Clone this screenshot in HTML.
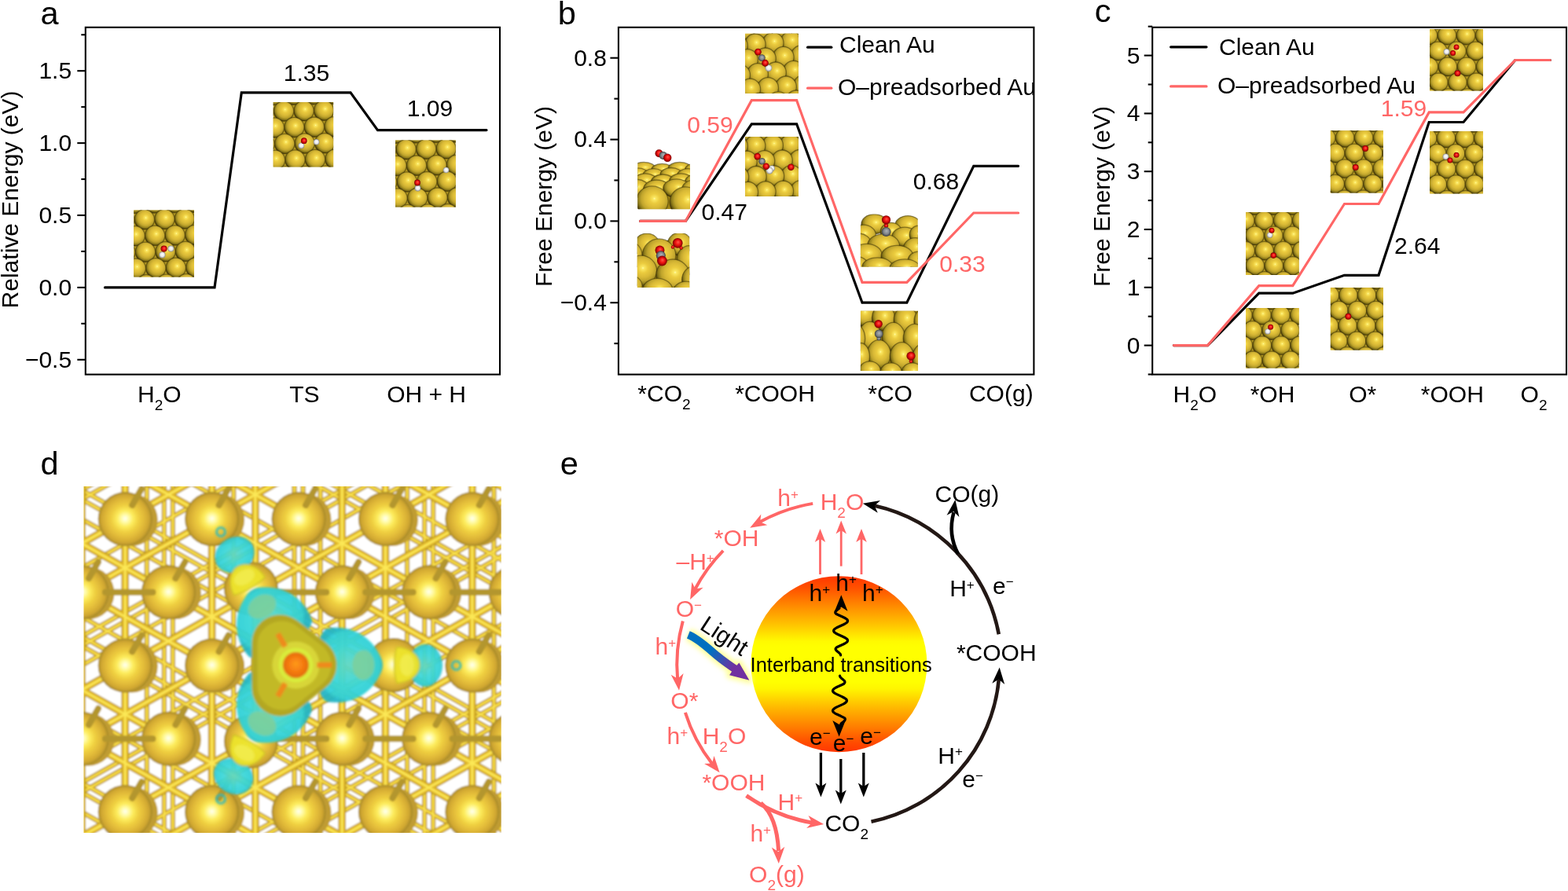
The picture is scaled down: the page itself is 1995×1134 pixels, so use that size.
<!DOCTYPE html>
<html lang="en"><head><meta charset="utf-8"><title>Figure</title>
<style>
html,body{margin:0;padding:0;background:#fff;overflow:hidden;}
svg{display:block;font-family:"Liberation Sans", sans-serif;}
</style></head>
<body>
<svg width="1995" height="1134" viewBox="0 0 1995 1134">
<defs>
<radialGradient id="gold" cx="0.57" cy="0.41" r="0.61" fx="0.57" fy="0.41">
 <stop offset="0" stop-color="#fffcaa"/>
 <stop offset="0.07" stop-color="#fbe862"/>
 <stop offset="0.26" stop-color="#ebcb3e"/>
 <stop offset="0.5" stop-color="#d9b936"/>
 <stop offset="0.68" stop-color="#bfa42c"/>
 <stop offset="0.82" stop-color="#93801c"/>
 <stop offset="0.93" stop-color="#5e500e"/>
 <stop offset="1" stop-color="#2e2604"/>
</radialGradient>
<radialGradient id="O" cx="0.5" cy="0.5" r="0.5" fx="0.55" fy="0.4">
 <stop offset="0" stop-color="#ff5a4a"/>
 <stop offset="0.5" stop-color="#ee1111"/>
 <stop offset="1" stop-color="#7a0000"/>
</radialGradient>
<radialGradient id="Hh" cx="0.5" cy="0.5" r="0.5" fx="0.55" fy="0.4">
 <stop offset="0" stop-color="#ffffff"/>
 <stop offset="0.6" stop-color="#e8e8e8"/>
 <stop offset="1" stop-color="#8a8a8a"/>
</radialGradient>
<radialGradient id="C" cx="0.5" cy="0.5" r="0.5" fx="0.55" fy="0.4">
 <stop offset="0" stop-color="#b0b4b8"/>
 <stop offset="0.6" stop-color="#80858a"/>
 <stop offset="1" stop-color="#3a3d40"/>
</radialGradient>
<clipPath id="c1"><rect x="170.2" y="267.4" width="76.8" height="85.2"/></clipPath><clipPath id="c2"><rect x="347.6" y="130" width="76.6" height="82.4"/></clipPath><clipPath id="c3"><rect x="503" y="178.4" width="76.8" height="85.2"/></clipPath><clipPath id="c4"><rect x="811.3" y="186" width="66.6" height="80.2"/></clipPath><clipPath id="c5"><rect x="810.8" y="297.1" width="66.4" height="69"/></clipPath><clipPath id="c6"><rect x="948.1" y="42.8" width="67.7" height="76.1"/></clipPath><clipPath id="c7"><rect x="948.1" y="173.9" width="67.9" height="76.2"/></clipPath><clipPath id="c8"><rect x="1094.9" y="272.6" width="72.8" height="66.9"/></clipPath><clipPath id="c9"><rect x="1094.9" y="395.8" width="73.1" height="76.2"/></clipPath><clipPath id="c10"><rect x="1585" y="270.1" width="67.7" height="79.8"/></clipPath><clipPath id="c11"><rect x="1585" y="392" width="67.7" height="76.5"/></clipPath><clipPath id="c12"><rect x="1692.8" y="166.2" width="67.2" height="79.3"/></clipPath><clipPath id="c13"><rect x="1692.8" y="366" width="67.2" height="79.6"/></clipPath><clipPath id="c14"><rect x="1819.1" y="37.1" width="67.8" height="78.5"/></clipPath><clipPath id="c15"><rect x="1819.1" y="166.9" width="67.8" height="79.5"/></clipPath><clipPath id="cd"><rect x="106.5" y="619.0" width="531.2" height="441.0"/></clipPath>
<radialGradient id="gd" cx="0.5" cy="0.5" r="0.5" fx="0.5" fy="0.49">
 <stop offset="0" stop-color="#fffff2"/>
 <stop offset="0.14" stop-color="#fffcaa"/>
 <stop offset="0.3" stop-color="#fdec5c"/>
 <stop offset="0.5" stop-color="#efcf40"/>
 <stop offset="0.72" stop-color="#e0b838"/>
 <stop offset="0.88" stop-color="#cfa630"/>
 <stop offset="0.96" stop-color="#b3922c"/>
 <stop offset="1" stop-color="#9a7f28"/>
</radialGradient>
<radialGradient id="cy" cx="0.5" cy="0.5" r="0.5">
 <stop offset="0" stop-color="#5fd6c0"/>
 <stop offset="0.55" stop-color="#38d6d8"/>
 <stop offset="0.9" stop-color="#2ecfd6"/>
 <stop offset="1" stop-color="#22b4c4"/>
</radialGradient>
<radialGradient id="yb" cx="0.5" cy="0.5" r="0.5">
 <stop offset="0" stop-color="#e8f05a"/>
 <stop offset="0.3" stop-color="#d6d83a"/>
 <stop offset="0.6" stop-color="#c2bb28"/>
 <stop offset="0.9" stop-color="#b5aa22"/>
 <stop offset="1" stop-color="#9c8f1c"/>
</radialGradient>
<radialGradient id="og" cx="0.5" cy="0.5" r="0.5" fx="0.5" fy="0.45">
 <stop offset="0" stop-color="#ff9a1a"/>
 <stop offset="0.6" stop-color="#f57a10"/>
 <stop offset="1" stop-color="#e06a10"/>
</radialGradient>
<filter id="bl" x="-5%" y="-5%" width="110%" height="110%"><feGaussianBlur stdDeviation="0.9"/></filter>
<filter id="bl2" x="-20%" y="-20%" width="140%" height="140%"><feGaussianBlur stdDeviation="1.6"/></filter>

<linearGradient id="sun" x1="0" y1="0" x2="0" y2="1">
 <stop offset="0" stop-color="#ff3600"/>
 <stop offset="0.07" stop-color="#ff5200"/>
 <stop offset="0.18" stop-color="#ff9000"/>
 <stop offset="0.28" stop-color="#ffc600"/>
 <stop offset="0.37" stop-color="#fffa00"/>
 <stop offset="0.40" stop-color="#ffff00"/>
 <stop offset="0.60" stop-color="#ffff00"/>
 <stop offset="0.64" stop-color="#fff600"/>
 <stop offset="0.74" stop-color="#ffbc00"/>
 <stop offset="0.86" stop-color="#ff7c00"/>
 <stop offset="0.95" stop-color="#ff4a00"/>
 <stop offset="1" stop-color="#ff3600"/>
</linearGradient>
<linearGradient id="lightg" gradientUnits="userSpaceOnUse" x1="880" y1="808" x2="952" y2="862">
 <stop offset="0" stop-color="#0070c0"/>
 <stop offset="0.35" stop-color="#0070c0"/>
 <stop offset="0.75" stop-color="#7030a0"/>
 <stop offset="1" stop-color="#7030a0"/>
</linearGradient>
<filter id="glow" x="-30%" y="-30%" width="160%" height="160%"><feGaussianBlur stdDeviation="3"/></filter>
</defs>
<rect width="1995" height="1134" fill="#fff"/>
<text x="51.4" y="31" font-size="41.5" fill="#000" text-anchor="start" >a</text>
<text x="709.7" y="31.2" font-size="41.5" fill="#000" text-anchor="start" >b</text>
<text x="1392.7" y="28" font-size="41.5" fill="#000" text-anchor="start" >c</text>
<text x="51.4" y="603.7" font-size="41.5" fill="#000" text-anchor="start" >d</text>
<text x="712.7" y="603.5" font-size="41.5" fill="#000" text-anchor="start" >e</text>
<rect x="108.8" y="34.8" width="527.2" height="441.8" fill="none" stroke="#000" stroke-width="2.1"/>
<line x1="98.3" y1="90.19999999999993" x2="108.8" y2="90.19999999999993" stroke="#000" stroke-width="2.1"/>
<line x1="98.3" y1="182.09999999999997" x2="108.8" y2="182.09999999999997" stroke="#000" stroke-width="2.1"/>
<line x1="98.3" y1="274.0" x2="108.8" y2="274.0" stroke="#000" stroke-width="2.1"/>
<line x1="98.3" y1="365.9" x2="108.8" y2="365.9" stroke="#000" stroke-width="2.1"/>
<line x1="98.3" y1="457.79999999999995" x2="108.8" y2="457.79999999999995" stroke="#000" stroke-width="2.1"/>
<line x1="103.3" y1="44.24999999999994" x2="108.8" y2="44.24999999999994" stroke="#000" stroke-width="2.1"/>
<line x1="103.3" y1="136.14999999999998" x2="108.8" y2="136.14999999999998" stroke="#000" stroke-width="2.1"/>
<line x1="103.3" y1="228.04999999999995" x2="108.8" y2="228.04999999999995" stroke="#000" stroke-width="2.1"/>
<line x1="103.3" y1="319.95" x2="108.8" y2="319.95" stroke="#000" stroke-width="2.1"/>
<line x1="103.3" y1="411.84999999999997" x2="108.8" y2="411.84999999999997" stroke="#000" stroke-width="2.1"/>
<text x="91.15" y="100.09999999999994" font-size="30" fill="#000" text-anchor="end" >1.5</text>
<text x="91.15" y="191.99999999999997" font-size="30" fill="#000" text-anchor="end" >1.0</text>
<text x="91.15" y="283.9" font-size="30" fill="#000" text-anchor="end" >0.5</text>
<text x="91.15" y="375.79999999999995" font-size="30" fill="#000" text-anchor="end" >0.0</text>
<text x="91.15" y="467.69999999999993" font-size="30" fill="#000" text-anchor="end" >−0.5</text>
<text transform="translate(23,254) rotate(-90)" font-size="30" text-anchor="middle">Relative Energy (eV)</text>
<polyline points="133.5,365.9 273.0,365.9 307.3,117.8 446.0,117.8 480.5,165.6 619.0,165.6" fill="none" stroke="#000" stroke-width="3.2" stroke-linejoin="miter" stroke-linecap="round"/>
<text x="390" y="102.5" font-size="30" fill="#000" text-anchor="middle" >1.35</text>
<text x="547" y="148" font-size="30" fill="#000" text-anchor="middle" >1.09</text>
<text x="202.8" y="512.2" font-size="30" fill="#000" text-anchor="middle" >H<tspan font-size="19" dy="10">2</tspan><tspan dy="-10" font-size="1">&#8203;</tspan>O</text>
<text x="387.3" y="512.2" font-size="30" fill="#000" text-anchor="middle" >TS</text>
<text x="542.6" y="512.2" font-size="30" fill="#000" text-anchor="middle" >OH + H</text>
<g clip-path="url(#c1)">
<rect x="170.2" y="267.4" width="76.8" height="85.2" fill="#b59a22"/>
<circle cx="247.0" cy="257.7" r="12.7" fill="url(#gold)" stroke="#3a3006" stroke-opacity=".5" stroke-width="1.3"/>
<circle cx="221.5" cy="258.1" r="12.7" fill="url(#gold)" stroke="#3a3006" stroke-opacity=".5" stroke-width="1.3"/>
<circle cx="196.0" cy="258.5" r="12.7" fill="url(#gold)" stroke="#3a3006" stroke-opacity=".5" stroke-width="1.3"/>
<circle cx="170.5" cy="258.9" r="12.7" fill="url(#gold)" stroke="#3a3006" stroke-opacity=".5" stroke-width="1.3"/>
<circle cx="234.8" cy="278.6" r="12.7" fill="url(#gold)" stroke="#3a3006" stroke-opacity=".5" stroke-width="1.3"/>
<circle cx="209.3" cy="279.0" r="12.7" fill="url(#gold)" stroke="#3a3006" stroke-opacity=".5" stroke-width="1.3"/>
<circle cx="183.8" cy="279.4" r="12.7" fill="url(#gold)" stroke="#3a3006" stroke-opacity=".5" stroke-width="1.3"/>
<circle cx="158.3" cy="279.8" r="12.7" fill="url(#gold)" stroke="#3a3006" stroke-opacity=".5" stroke-width="1.3"/>
<circle cx="248.1" cy="299.1" r="12.7" fill="url(#gold)" stroke="#3a3006" stroke-opacity=".5" stroke-width="1.3"/>
<circle cx="222.6" cy="299.5" r="12.7" fill="url(#gold)" stroke="#3a3006" stroke-opacity=".5" stroke-width="1.3"/>
<circle cx="197.1" cy="299.9" r="12.7" fill="url(#gold)" stroke="#3a3006" stroke-opacity=".5" stroke-width="1.3"/>
<circle cx="171.6" cy="300.3" r="12.7" fill="url(#gold)" stroke="#3a3006" stroke-opacity=".5" stroke-width="1.3"/>
<circle cx="235.9" cy="320.0" r="12.7" fill="url(#gold)" stroke="#3a3006" stroke-opacity=".5" stroke-width="1.3"/>
<circle cx="210.4" cy="320.4" r="12.7" fill="url(#gold)" stroke="#3a3006" stroke-opacity=".5" stroke-width="1.3"/>
<circle cx="184.9" cy="320.8" r="12.7" fill="url(#gold)" stroke="#3a3006" stroke-opacity=".5" stroke-width="1.3"/>
<circle cx="159.4" cy="321.2" r="12.7" fill="url(#gold)" stroke="#3a3006" stroke-opacity=".5" stroke-width="1.3"/>
<circle cx="249.2" cy="340.5" r="12.7" fill="url(#gold)" stroke="#3a3006" stroke-opacity=".5" stroke-width="1.3"/>
<circle cx="223.7" cy="340.9" r="12.7" fill="url(#gold)" stroke="#3a3006" stroke-opacity=".5" stroke-width="1.3"/>
<circle cx="198.2" cy="341.3" r="12.7" fill="url(#gold)" stroke="#3a3006" stroke-opacity=".5" stroke-width="1.3"/>
<circle cx="172.7" cy="341.7" r="12.7" fill="url(#gold)" stroke="#3a3006" stroke-opacity=".5" stroke-width="1.3"/>
<circle cx="237.0" cy="361.4" r="12.7" fill="url(#gold)" stroke="#3a3006" stroke-opacity=".5" stroke-width="1.3"/>
<circle cx="211.5" cy="361.8" r="12.7" fill="url(#gold)" stroke="#3a3006" stroke-opacity=".5" stroke-width="1.3"/>
<circle cx="186.0" cy="362.2" r="12.7" fill="url(#gold)" stroke="#3a3006" stroke-opacity=".5" stroke-width="1.3"/>
<circle cx="160.5" cy="362.6" r="12.7" fill="url(#gold)" stroke="#3a3006" stroke-opacity=".5" stroke-width="1.3"/>

<circle cx="206.4" cy="324.4" r="4.1" fill="url(#Hh)"/>
<circle cx="217.4" cy="316.6" r="4.0" fill="url(#Hh)"/>
<circle cx="208.6" cy="316.6" r="4.1" fill="url(#O)"/>
</g>
<g clip-path="url(#c2)">
<rect x="347.6" y="130" width="76.6" height="82.4" fill="#b59a22"/>
<circle cx="424.2" cy="119.9" r="12.7" fill="url(#gold)" stroke="#3a3006" stroke-opacity=".5" stroke-width="1.3"/>
<circle cx="398.7" cy="120.3" r="12.7" fill="url(#gold)" stroke="#3a3006" stroke-opacity=".5" stroke-width="1.3"/>
<circle cx="373.2" cy="120.7" r="12.7" fill="url(#gold)" stroke="#3a3006" stroke-opacity=".5" stroke-width="1.3"/>
<circle cx="347.7" cy="121.1" r="12.7" fill="url(#gold)" stroke="#3a3006" stroke-opacity=".5" stroke-width="1.3"/>
<circle cx="412.0" cy="140.8" r="12.7" fill="url(#gold)" stroke="#3a3006" stroke-opacity=".5" stroke-width="1.3"/>
<circle cx="386.5" cy="141.2" r="12.7" fill="url(#gold)" stroke="#3a3006" stroke-opacity=".5" stroke-width="1.3"/>
<circle cx="361.0" cy="141.6" r="12.7" fill="url(#gold)" stroke="#3a3006" stroke-opacity=".5" stroke-width="1.3"/>
<circle cx="335.5" cy="142.0" r="12.7" fill="url(#gold)" stroke="#3a3006" stroke-opacity=".5" stroke-width="1.3"/>
<circle cx="425.3" cy="161.3" r="12.7" fill="url(#gold)" stroke="#3a3006" stroke-opacity=".5" stroke-width="1.3"/>
<circle cx="399.8" cy="161.7" r="12.7" fill="url(#gold)" stroke="#3a3006" stroke-opacity=".5" stroke-width="1.3"/>
<circle cx="374.3" cy="162.1" r="12.7" fill="url(#gold)" stroke="#3a3006" stroke-opacity=".5" stroke-width="1.3"/>
<circle cx="348.8" cy="162.5" r="12.7" fill="url(#gold)" stroke="#3a3006" stroke-opacity=".5" stroke-width="1.3"/>
<circle cx="413.1" cy="182.2" r="12.7" fill="url(#gold)" stroke="#3a3006" stroke-opacity=".5" stroke-width="1.3"/>
<circle cx="387.6" cy="182.6" r="12.7" fill="url(#gold)" stroke="#3a3006" stroke-opacity=".5" stroke-width="1.3"/>
<circle cx="362.1" cy="183.0" r="12.7" fill="url(#gold)" stroke="#3a3006" stroke-opacity=".5" stroke-width="1.3"/>
<circle cx="336.6" cy="183.4" r="12.7" fill="url(#gold)" stroke="#3a3006" stroke-opacity=".5" stroke-width="1.3"/>
<circle cx="426.4" cy="202.7" r="12.7" fill="url(#gold)" stroke="#3a3006" stroke-opacity=".5" stroke-width="1.3"/>
<circle cx="400.9" cy="203.1" r="12.7" fill="url(#gold)" stroke="#3a3006" stroke-opacity=".5" stroke-width="1.3"/>
<circle cx="375.4" cy="203.5" r="12.7" fill="url(#gold)" stroke="#3a3006" stroke-opacity=".5" stroke-width="1.3"/>
<circle cx="349.9" cy="203.9" r="12.7" fill="url(#gold)" stroke="#3a3006" stroke-opacity=".5" stroke-width="1.3"/>
<circle cx="414.2" cy="223.6" r="12.7" fill="url(#gold)" stroke="#3a3006" stroke-opacity=".5" stroke-width="1.3"/>
<circle cx="388.7" cy="224.0" r="12.7" fill="url(#gold)" stroke="#3a3006" stroke-opacity=".5" stroke-width="1.3"/>
<circle cx="363.2" cy="224.4" r="12.7" fill="url(#gold)" stroke="#3a3006" stroke-opacity=".5" stroke-width="1.3"/>
<circle cx="337.7" cy="224.8" r="12.7" fill="url(#gold)" stroke="#3a3006" stroke-opacity=".5" stroke-width="1.3"/>

<circle cx="383.3" cy="185.3" r="3.9" fill="url(#Hh)"/>
<circle cx="402.6" cy="180.8" r="3.8" fill="url(#Hh)"/>
<circle cx="386.8" cy="179.2" r="3.9" fill="url(#O)"/>
</g>
<g clip-path="url(#c3)">
<rect x="503" y="178.4" width="76.8" height="85.2" fill="#b59a22"/>
<circle cx="579.8" cy="168.5" r="12.7" fill="url(#gold)" stroke="#3a3006" stroke-opacity=".5" stroke-width="1.3"/>
<circle cx="554.3" cy="168.9" r="12.7" fill="url(#gold)" stroke="#3a3006" stroke-opacity=".5" stroke-width="1.3"/>
<circle cx="528.8" cy="169.3" r="12.7" fill="url(#gold)" stroke="#3a3006" stroke-opacity=".5" stroke-width="1.3"/>
<circle cx="503.3" cy="169.7" r="12.7" fill="url(#gold)" stroke="#3a3006" stroke-opacity=".5" stroke-width="1.3"/>
<circle cx="567.6" cy="189.4" r="12.7" fill="url(#gold)" stroke="#3a3006" stroke-opacity=".5" stroke-width="1.3"/>
<circle cx="542.1" cy="189.8" r="12.7" fill="url(#gold)" stroke="#3a3006" stroke-opacity=".5" stroke-width="1.3"/>
<circle cx="516.6" cy="190.2" r="12.7" fill="url(#gold)" stroke="#3a3006" stroke-opacity=".5" stroke-width="1.3"/>
<circle cx="491.1" cy="190.6" r="12.7" fill="url(#gold)" stroke="#3a3006" stroke-opacity=".5" stroke-width="1.3"/>
<circle cx="580.9" cy="209.9" r="12.7" fill="url(#gold)" stroke="#3a3006" stroke-opacity=".5" stroke-width="1.3"/>
<circle cx="555.4" cy="210.3" r="12.7" fill="url(#gold)" stroke="#3a3006" stroke-opacity=".5" stroke-width="1.3"/>
<circle cx="529.9" cy="210.7" r="12.7" fill="url(#gold)" stroke="#3a3006" stroke-opacity=".5" stroke-width="1.3"/>
<circle cx="504.4" cy="211.1" r="12.7" fill="url(#gold)" stroke="#3a3006" stroke-opacity=".5" stroke-width="1.3"/>
<circle cx="568.7" cy="230.8" r="12.7" fill="url(#gold)" stroke="#3a3006" stroke-opacity=".5" stroke-width="1.3"/>
<circle cx="543.2" cy="231.2" r="12.7" fill="url(#gold)" stroke="#3a3006" stroke-opacity=".5" stroke-width="1.3"/>
<circle cx="517.7" cy="231.6" r="12.7" fill="url(#gold)" stroke="#3a3006" stroke-opacity=".5" stroke-width="1.3"/>
<circle cx="492.2" cy="232.0" r="12.7" fill="url(#gold)" stroke="#3a3006" stroke-opacity=".5" stroke-width="1.3"/>
<circle cx="582.0" cy="251.3" r="12.7" fill="url(#gold)" stroke="#3a3006" stroke-opacity=".5" stroke-width="1.3"/>
<circle cx="556.5" cy="251.7" r="12.7" fill="url(#gold)" stroke="#3a3006" stroke-opacity=".5" stroke-width="1.3"/>
<circle cx="531.0" cy="252.1" r="12.7" fill="url(#gold)" stroke="#3a3006" stroke-opacity=".5" stroke-width="1.3"/>
<circle cx="505.5" cy="252.5" r="12.7" fill="url(#gold)" stroke="#3a3006" stroke-opacity=".5" stroke-width="1.3"/>
<circle cx="569.8" cy="272.2" r="12.7" fill="url(#gold)" stroke="#3a3006" stroke-opacity=".5" stroke-width="1.3"/>
<circle cx="544.3" cy="272.6" r="12.7" fill="url(#gold)" stroke="#3a3006" stroke-opacity=".5" stroke-width="1.3"/>
<circle cx="518.8" cy="273.0" r="12.7" fill="url(#gold)" stroke="#3a3006" stroke-opacity=".5" stroke-width="1.3"/>
<circle cx="493.3" cy="273.4" r="12.7" fill="url(#gold)" stroke="#3a3006" stroke-opacity=".5" stroke-width="1.3"/>

<circle cx="531.5" cy="239.5" r="3.9" fill="url(#Hh)"/>
<circle cx="567.6" cy="216.5" r="3.8" fill="url(#Hh)"/>
<circle cx="531" cy="232.5" r="3.9" fill="url(#O)"/>
</g>
<rect x="786.9" y="34.8" width="528.5000000000001" height="441.8" fill="none" stroke="#000" stroke-width="2.1"/>
<line x1="776.4" y1="73.71999999999994" x2="786.9" y2="73.71999999999994" stroke="#000" stroke-width="2.1"/>
<line x1="776.4" y1="177.55999999999995" x2="786.9" y2="177.55999999999995" stroke="#000" stroke-width="2.1"/>
<line x1="776.4" y1="281.4" x2="786.9" y2="281.4" stroke="#000" stroke-width="2.1"/>
<line x1="776.4" y1="385.24" x2="786.9" y2="385.24" stroke="#000" stroke-width="2.1"/>
<line x1="781.4" y1="125.63999999999996" x2="786.9" y2="125.63999999999996" stroke="#000" stroke-width="2.1"/>
<line x1="781.4" y1="229.47999999999996" x2="786.9" y2="229.47999999999996" stroke="#000" stroke-width="2.1"/>
<line x1="781.4" y1="333.32" x2="786.9" y2="333.32" stroke="#000" stroke-width="2.1"/>
<line x1="781.4" y1="437.15999999999997" x2="786.9" y2="437.15999999999997" stroke="#000" stroke-width="2.1"/>
<text x="771.9" y="83.61999999999995" font-size="30" fill="#000" text-anchor="end" >0.8</text>
<text x="771.9" y="187.45999999999995" font-size="30" fill="#000" text-anchor="end" >0.4</text>
<text x="771.9" y="291.29999999999995" font-size="30" fill="#000" text-anchor="end" >0.0</text>
<text x="771.9" y="395.14" font-size="30" fill="#000" text-anchor="end" >−0.4</text>
<text transform="translate(702,250) rotate(-90)" font-size="30" text-anchor="middle">Free Energy (eV)</text>
<polyline points="814.6,281.4 872.3,281.4 956.3,157.8 1013.6,157.8 1097.0,385.2 1153.8,385.2 1238.8,211.3 1295.6,211.3" fill="none" stroke="#000" stroke-width="3.2" stroke-linejoin="miter" stroke-linecap="round"/>
<polyline points="814.6,281.4 872.3,281.4 956.3,127.7 1013.6,127.7 1097.0,359.3 1153.8,359.3 1238.8,271.0 1295.6,271.0" fill="none" stroke="#ff6666" stroke-width="3.2" stroke-linejoin="miter" stroke-linecap="round"/>
<text x="903.5" y="168.9" font-size="30" fill="#ff6666" text-anchor="middle" >0.59</text>
<text x="921.8" y="280" font-size="30" fill="#000" text-anchor="middle" >0.47</text>
<text x="1191" y="241" font-size="30" fill="#000" text-anchor="middle" >0.68</text>
<text x="1224.4" y="345.7" font-size="30" fill="#ff6666" text-anchor="middle" >0.33</text>
<polyline points="1027.6,60.2 1057.8,60.2" fill="none" stroke="#000" stroke-width="3.2" stroke-linejoin="miter" stroke-linecap="round"/>
<text x="1068" y="66.7" font-size="30" fill="#000" text-anchor="start" >Clean Au</text>
<polyline points="1027.6,112.2 1057.8,112.2" fill="none" stroke="#ff6666" stroke-width="3.2" stroke-linejoin="miter" stroke-linecap="round"/>
<text x="1066" y="121" font-size="30" fill="#000" text-anchor="start" >O–preadsorbed Au</text>
<text x="845" y="511" font-size="30" fill="#000" text-anchor="middle" >*CO<tspan font-size="19" dy="10">2</tspan><tspan dy="-10" font-size="1">&#8203;</tspan></text>
<text x="986" y="511" font-size="30" fill="#000" text-anchor="middle" >*COOH</text>
<text x="1132.6" y="511" font-size="30" fill="#000" text-anchor="middle" >*CO</text>
<text x="1273.8" y="511" font-size="30" fill="#000" text-anchor="middle" >CO(g)</text>
<g clip-path="url(#c4)">
<rect x="811.3" y="222" width="66.6" height="44.19999999999999" fill="#a08414"/>
<ellipse cx="819.1" cy="214.2" rx="14.6" ry="7.8" fill="url(#gold)" stroke="#3a3006" stroke-opacity=".5" stroke-width="1.3"/>
<ellipse cx="842.4" cy="215.8" rx="13.6" ry="7.4" fill="url(#gold)" stroke="#3a3006" stroke-opacity=".5" stroke-width="1.3"/>
<ellipse cx="864.7" cy="214.2" rx="14.6" ry="7.8" fill="url(#gold)" stroke="#3a3006" stroke-opacity=".5" stroke-width="1.3"/>
<ellipse cx="883.1" cy="215.8" rx="11.6" ry="7.4" fill="url(#gold)" stroke="#3a3006" stroke-opacity=".5" stroke-width="1.3"/>
<ellipse cx="811.3" cy="222.0" rx="13.6" ry="8.1" fill="url(#gold)" stroke="#3a3006" stroke-opacity=".5" stroke-width="1.3"/>
<ellipse cx="831.7" cy="223.2" rx="14.0" ry="8.5" fill="url(#gold)" stroke="#3a3006" stroke-opacity=".5" stroke-width="1.3"/>
<ellipse cx="854.0" cy="222.0" rx="14.0" ry="8.5" fill="url(#gold)" stroke="#3a3006" stroke-opacity=".5" stroke-width="1.3"/>
<ellipse cx="875.4" cy="223.2" rx="14.0" ry="8.5" fill="url(#gold)" stroke="#3a3006" stroke-opacity=".5" stroke-width="1.3"/>
<ellipse cx="821.0" cy="230.5" rx="15.1" ry="9.7" fill="url(#gold)" stroke="#3a3006" stroke-opacity=".5" stroke-width="1.3"/>
<ellipse cx="843.4" cy="231.7" rx="15.1" ry="9.7" fill="url(#gold)" stroke="#3a3006" stroke-opacity=".5" stroke-width="1.3"/>
<ellipse cx="866.6" cy="230.5" rx="15.1" ry="9.7" fill="url(#gold)" stroke="#3a3006" stroke-opacity=".5" stroke-width="1.3"/>
<ellipse cx="885.1" cy="231.7" rx="13.6" ry="9.7" fill="url(#gold)" stroke="#3a3006" stroke-opacity=".5" stroke-width="1.3"/>
<ellipse cx="809.4" cy="239.8" rx="16.5" ry="11.6" fill="url(#gold)" stroke="#3a3006" stroke-opacity=".5" stroke-width="1.3"/>
<ellipse cx="835.6" cy="241.0" rx="17.1" ry="12.0" fill="url(#gold)" stroke="#3a3006" stroke-opacity=".5" stroke-width="1.3"/>
<ellipse cx="860.8" cy="239.8" rx="17.1" ry="12.0" fill="url(#gold)" stroke="#3a3006" stroke-opacity=".5" stroke-width="1.3"/>
<ellipse cx="883.1" cy="241.0" rx="15.5" ry="12.0" fill="url(#gold)" stroke="#3a3006" stroke-opacity=".5" stroke-width="1.3"/>
<ellipse cx="829.8" cy="256.3" rx="20.4" ry="19.4" fill="url(#gold)" stroke="#3a3006" stroke-opacity=".5" stroke-width="1.3"/>
<ellipse cx="872.5" cy="257.3" rx="20.4" ry="19.4" fill="url(#gold)" stroke="#3a3006" stroke-opacity=".5" stroke-width="1.3"/>
<circle cx="838.5" cy="195.2" r="5.0" fill="url(#O)"/>
<circle cx="843.7" cy="197.9" r="5.0" fill="url(#C)"/>
<circle cx="849.2" cy="200.7" r="5.2" fill="url(#O)"/>
</g>
<g clip-path="url(#c5)">
<rect x="810.8" y="306" width="66.4" height="60.10000000000002" fill="#a08414"/>
<ellipse cx="823.0" cy="312.6" rx="16.5" ry="15.5" fill="url(#gold)" stroke="#3a3006" stroke-opacity=".5" stroke-width="1.3"/>
<ellipse cx="864.7" cy="310.7" rx="15.5" ry="14.6" fill="url(#gold)" stroke="#3a3006" stroke-opacity=".5" stroke-width="1.3"/>
<ellipse cx="801.6" cy="325.2" rx="15.5" ry="17.5" fill="url(#gold)" stroke="#3a3006" stroke-opacity=".5" stroke-width="1.3"/>
<ellipse cx="838.5" cy="325.2" rx="21.3" ry="21.3" fill="url(#gold)" stroke="#3a3006" stroke-opacity=".5" stroke-width="1.3"/>
<ellipse cx="877.3" cy="331.0" rx="16.5" ry="18.4" fill="url(#gold)" stroke="#3a3006" stroke-opacity=".5" stroke-width="1.3"/>
<ellipse cx="815.2" cy="344.6" rx="20.4" ry="19.4" fill="url(#gold)" stroke="#3a3006" stroke-opacity=".5" stroke-width="1.3"/>
<ellipse cx="856.0" cy="350.4" rx="21.3" ry="20.4" fill="url(#gold)" stroke="#3a3006" stroke-opacity=".5" stroke-width="1.3"/>
<ellipse cx="883.1" cy="356.3" rx="15.5" ry="17.5" fill="url(#gold)" stroke="#3a3006" stroke-opacity=".5" stroke-width="1.3"/>
<ellipse cx="801.6" cy="364.0" rx="15.5" ry="13.6" fill="url(#gold)" stroke="#3a3006" stroke-opacity=".5" stroke-width="1.3"/>
<ellipse cx="836.6" cy="369.8" rx="19.4" ry="15.5" fill="url(#gold)" stroke="#3a3006" stroke-opacity=".5" stroke-width="1.3"/>
<ellipse cx="873.4" cy="371.8" rx="17.5" ry="13.6" fill="url(#gold)" stroke="#3a3006" stroke-opacity=".5" stroke-width="1.3"/>
<circle cx="856.0" cy="314.5" r="2.2" fill="url(#O)"/>
<circle cx="866.6" cy="315.5" r="2.2" fill="url(#O)"/>
<circle cx="862.2" cy="309.3" r="6.4" fill="url(#O)"/>
<circle cx="839.5" cy="318.4" r="6.0" fill="url(#O)"/>
<circle cx="840.8" cy="325.2" r="6.0" fill="url(#C)"/>
<circle cx="842.4" cy="332.0" r="6.4" fill="url(#O)"/>
</g>
<g clip-path="url(#c6)">
<rect x="948.1" y="42.8" width="67.7" height="76.1" fill="#b59a22"/>
<circle cx="1016.3" cy="33.6" r="13.4" fill="url(#gold)" stroke="#3a3006" stroke-opacity=".5" stroke-width="1.3"/>
<circle cx="993.4" cy="35.2" r="13.4" fill="url(#gold)" stroke="#3a3006" stroke-opacity=".5" stroke-width="1.3"/>
<circle cx="970.5" cy="36.8" r="13.4" fill="url(#gold)" stroke="#3a3006" stroke-opacity=".5" stroke-width="1.3"/>
<circle cx="947.6" cy="38.4" r="13.4" fill="url(#gold)" stroke="#3a3006" stroke-opacity=".5" stroke-width="1.3"/>
<circle cx="1006.5" cy="53.2" r="13.4" fill="url(#gold)" stroke="#3a3006" stroke-opacity=".5" stroke-width="1.3"/>
<circle cx="983.6" cy="54.8" r="13.4" fill="url(#gold)" stroke="#3a3006" stroke-opacity=".5" stroke-width="1.3"/>
<circle cx="960.7" cy="56.4" r="13.4" fill="url(#gold)" stroke="#3a3006" stroke-opacity=".5" stroke-width="1.3"/>
<circle cx="937.8" cy="58.0" r="13.4" fill="url(#gold)" stroke="#3a3006" stroke-opacity=".5" stroke-width="1.3"/>
<circle cx="1019.6" cy="71.2" r="13.4" fill="url(#gold)" stroke="#3a3006" stroke-opacity=".5" stroke-width="1.3"/>
<circle cx="996.7" cy="72.8" r="13.4" fill="url(#gold)" stroke="#3a3006" stroke-opacity=".5" stroke-width="1.3"/>
<circle cx="973.8" cy="74.4" r="13.4" fill="url(#gold)" stroke="#3a3006" stroke-opacity=".5" stroke-width="1.3"/>
<circle cx="950.9" cy="76.0" r="13.4" fill="url(#gold)" stroke="#3a3006" stroke-opacity=".5" stroke-width="1.3"/>
<circle cx="1009.8" cy="90.8" r="13.4" fill="url(#gold)" stroke="#3a3006" stroke-opacity=".5" stroke-width="1.3"/>
<circle cx="986.9" cy="92.4" r="13.4" fill="url(#gold)" stroke="#3a3006" stroke-opacity=".5" stroke-width="1.3"/>
<circle cx="964.0" cy="94.0" r="13.4" fill="url(#gold)" stroke="#3a3006" stroke-opacity=".5" stroke-width="1.3"/>
<circle cx="941.1" cy="95.6" r="13.4" fill="url(#gold)" stroke="#3a3006" stroke-opacity=".5" stroke-width="1.3"/>
<circle cx="1022.9" cy="108.8" r="13.4" fill="url(#gold)" stroke="#3a3006" stroke-opacity=".5" stroke-width="1.3"/>
<circle cx="1000.0" cy="110.4" r="13.4" fill="url(#gold)" stroke="#3a3006" stroke-opacity=".5" stroke-width="1.3"/>
<circle cx="977.1" cy="112.0" r="13.4" fill="url(#gold)" stroke="#3a3006" stroke-opacity=".5" stroke-width="1.3"/>
<circle cx="954.2" cy="113.6" r="13.4" fill="url(#gold)" stroke="#3a3006" stroke-opacity=".5" stroke-width="1.3"/>
<circle cx="1013.1" cy="128.4" r="13.4" fill="url(#gold)" stroke="#3a3006" stroke-opacity=".5" stroke-width="1.3"/>
<circle cx="990.2" cy="130.0" r="13.4" fill="url(#gold)" stroke="#3a3006" stroke-opacity=".5" stroke-width="1.3"/>
<circle cx="967.3" cy="131.6" r="13.4" fill="url(#gold)" stroke="#3a3006" stroke-opacity=".5" stroke-width="1.3"/>

<circle cx="977.8747602988825" cy="86.60252595384515" r="4.4" fill="url(#Hh)"/>
<circle cx="964.3853732724988" cy="66.10394762943861" r="4.4" fill="url(#O)"/>
<circle cx="969.2785822918734" cy="73.64213449712358" r="4.4" fill="url(#C)"/>
<circle cx="973.5105468491702" cy="80.25457911789988" r="4.4" fill="url(#O)"/>
</g>
<g clip-path="url(#c7)">
<rect x="948.1" y="173.9" width="67.9" height="76.2" fill="#b59a22"/>
<circle cx="1016.3" cy="164.4" r="13.2" fill="url(#gold)" stroke="#3a3006" stroke-opacity=".5" stroke-width="1.3"/>
<circle cx="993.8" cy="165.0" r="13.2" fill="url(#gold)" stroke="#3a3006" stroke-opacity=".5" stroke-width="1.3"/>
<circle cx="971.3" cy="165.6" r="13.2" fill="url(#gold)" stroke="#3a3006" stroke-opacity=".5" stroke-width="1.3"/>
<circle cx="948.8" cy="166.2" r="13.2" fill="url(#gold)" stroke="#3a3006" stroke-opacity=".5" stroke-width="1.3"/>
<circle cx="1028.2" cy="183.7" r="13.2" fill="url(#gold)" stroke="#3a3006" stroke-opacity=".5" stroke-width="1.3"/>
<circle cx="1005.7" cy="184.3" r="13.2" fill="url(#gold)" stroke="#3a3006" stroke-opacity=".5" stroke-width="1.3"/>
<circle cx="983.2" cy="184.9" r="13.2" fill="url(#gold)" stroke="#3a3006" stroke-opacity=".5" stroke-width="1.3"/>
<circle cx="960.7" cy="185.5" r="13.2" fill="url(#gold)" stroke="#3a3006" stroke-opacity=".5" stroke-width="1.3"/>
<circle cx="938.2" cy="186.1" r="13.2" fill="url(#gold)" stroke="#3a3006" stroke-opacity=".5" stroke-width="1.3"/>
<circle cx="1017.6" cy="203.6" r="13.2" fill="url(#gold)" stroke="#3a3006" stroke-opacity=".5" stroke-width="1.3"/>
<circle cx="995.1" cy="204.2" r="13.2" fill="url(#gold)" stroke="#3a3006" stroke-opacity=".5" stroke-width="1.3"/>
<circle cx="972.6" cy="204.8" r="13.2" fill="url(#gold)" stroke="#3a3006" stroke-opacity=".5" stroke-width="1.3"/>
<circle cx="950.1" cy="205.4" r="13.2" fill="url(#gold)" stroke="#3a3006" stroke-opacity=".5" stroke-width="1.3"/>
<circle cx="1007.0" cy="223.5" r="13.2" fill="url(#gold)" stroke="#3a3006" stroke-opacity=".5" stroke-width="1.3"/>
<circle cx="984.5" cy="224.1" r="13.2" fill="url(#gold)" stroke="#3a3006" stroke-opacity=".5" stroke-width="1.3"/>
<circle cx="962.0" cy="224.7" r="13.2" fill="url(#gold)" stroke="#3a3006" stroke-opacity=".5" stroke-width="1.3"/>
<circle cx="939.5" cy="225.3" r="13.2" fill="url(#gold)" stroke="#3a3006" stroke-opacity=".5" stroke-width="1.3"/>
<circle cx="1018.9" cy="242.8" r="13.2" fill="url(#gold)" stroke="#3a3006" stroke-opacity=".5" stroke-width="1.3"/>
<circle cx="996.4" cy="243.4" r="13.2" fill="url(#gold)" stroke="#3a3006" stroke-opacity=".5" stroke-width="1.3"/>
<circle cx="973.9" cy="244.0" r="13.2" fill="url(#gold)" stroke="#3a3006" stroke-opacity=".5" stroke-width="1.3"/>
<circle cx="951.4" cy="244.6" r="13.2" fill="url(#gold)" stroke="#3a3006" stroke-opacity=".5" stroke-width="1.3"/>
<circle cx="1008.3" cy="262.7" r="13.2" fill="url(#gold)" stroke="#3a3006" stroke-opacity=".5" stroke-width="1.3"/>

<circle cx="982.0838183934808" cy="214.23748544819557" r="3.8" fill="url(#Hh)"/>
<circle cx="979.1734575087311" cy="217.14784633294528" r="4.4" fill="url(#Hh)"/>
<circle cx="963.651532790066" cy="199.1036088474971" r="4.3" fill="url(#O)"/>
<circle cx="969.4722545595654" cy="205.31237873496315" r="4.3" fill="url(#C)"/>
<circle cx="974.7109041521148" cy="211.7151726814125" r="4.3" fill="url(#O)"/>
<circle cx="1006.336825766395" cy="212.68529297632907" r="4.3" fill="url(#O)"/>
</g>
<g clip-path="url(#c8)">
<rect x="1094.9" y="300" width="72.8" height="39.5" fill="#a08414"/>
<ellipse cx="1112.4" cy="285.2" rx="16.5" ry="12.6" fill="url(#gold)" stroke="#3a3006" stroke-opacity=".5" stroke-width="1.3"/>
<ellipse cx="1155.1" cy="287.2" rx="16.5" ry="12.6" fill="url(#gold)" stroke="#3a3006" stroke-opacity=".5" stroke-width="1.3"/>
<ellipse cx="1098.8" cy="298.8" rx="15.5" ry="12.6" fill="url(#gold)" stroke="#3a3006" stroke-opacity=".5" stroke-width="1.3"/>
<ellipse cx="1133.7" cy="294.9" rx="13.6" ry="11.6" fill="url(#gold)" stroke="#3a3006" stroke-opacity=".5" stroke-width="1.3"/>
<ellipse cx="1151.2" cy="301.7" rx="16.5" ry="12.6" fill="url(#gold)" stroke="#3a3006" stroke-opacity=".5" stroke-width="1.3"/>
<ellipse cx="1168.7" cy="298.8" rx="11.6" ry="11.6" fill="url(#gold)" stroke="#3a3006" stroke-opacity=".5" stroke-width="1.3"/>
<ellipse cx="1091.0" cy="310.4" rx="17.5" ry="13.6" fill="url(#gold)" stroke="#3a3006" stroke-opacity=".5" stroke-width="1.3"/>
<ellipse cx="1124.0" cy="312.4" rx="20.4" ry="14.6" fill="url(#gold)" stroke="#3a3006" stroke-opacity=".5" stroke-width="1.3"/>
<ellipse cx="1164.8" cy="316.3" rx="15.5" ry="13.6" fill="url(#gold)" stroke="#3a3006" stroke-opacity=".5" stroke-width="1.3"/>
<ellipse cx="1102.7" cy="324.0" rx="19.4" ry="13.6" fill="url(#gold)" stroke="#3a3006" stroke-opacity=".5" stroke-width="1.3"/>
<ellipse cx="1141.5" cy="326.0" rx="20.4" ry="13.6" fill="url(#gold)" stroke="#3a3006" stroke-opacity=".5" stroke-width="1.3"/>
<ellipse cx="1168.7" cy="331.8" rx="13.6" ry="11.6" fill="url(#gold)" stroke="#3a3006" stroke-opacity=".5" stroke-width="1.3"/>
<ellipse cx="1087.2" cy="337.6" rx="17.5" ry="11.6" fill="url(#gold)" stroke="#3a3006" stroke-opacity=".5" stroke-width="1.3"/>
<ellipse cx="1116.3" cy="339.5" rx="19.4" ry="11.6" fill="url(#gold)" stroke="#3a3006" stroke-opacity=".5" stroke-width="1.3"/>
<ellipse cx="1151.2" cy="341.5" rx="19.4" ry="11.6" fill="url(#gold)" stroke="#3a3006" stroke-opacity=".5" stroke-width="1.3"/>
<circle cx="1127.5" cy="287.2" r="2.6" fill="url(#O)"/>
<circle cx="1127.5" cy="294.9" r="6.0" fill="url(#C)"/>
<circle cx="1127.5" cy="279.8" r="5.6" fill="url(#O)"/>
</g>
<g clip-path="url(#c9)">
<rect x="1094.9" y="395" width="73.1" height="77.0" fill="#a08414"/>
<ellipse cx="1098.8" cy="399.7" rx="13.6" ry="15.5" fill="url(#gold)" stroke="#3a3006" stroke-opacity=".5" stroke-width="1.3"/>
<ellipse cx="1124.0" cy="404.5" rx="14.6" ry="16.5" fill="url(#gold)" stroke="#3a3006" stroke-opacity=".5" stroke-width="1.3"/>
<ellipse cx="1152.2" cy="407.5" rx="15.1" ry="17.5" fill="url(#gold)" stroke="#3a3006" stroke-opacity=".5" stroke-width="1.3"/>
<ellipse cx="1174.5" cy="409.4" rx="11.6" ry="16.5" fill="url(#gold)" stroke="#3a3006" stroke-opacity=".5" stroke-width="1.3"/>
<ellipse cx="1106.6" cy="427.8" rx="14.0" ry="18.4" fill="url(#gold)" stroke="#3a3006" stroke-opacity=".5" stroke-width="1.3"/>
<ellipse cx="1136.6" cy="428.8" rx="14.6" ry="18.4" fill="url(#gold)" stroke="#3a3006" stroke-opacity=".5" stroke-width="1.3"/>
<ellipse cx="1163.8" cy="430.7" rx="14.6" ry="18.4" fill="url(#gold)" stroke="#3a3006" stroke-opacity=".5" stroke-width="1.3"/>
<ellipse cx="1089.1" cy="430.7" rx="11.6" ry="17.5" fill="url(#gold)" stroke="#3a3006" stroke-opacity=".5" stroke-width="1.3"/>
<ellipse cx="1118.2" cy="451.1" rx="15.1" ry="18.4" fill="url(#gold)" stroke="#3a3006" stroke-opacity=".5" stroke-width="1.3"/>
<ellipse cx="1147.3" cy="454.0" rx="15.1" ry="18.4" fill="url(#gold)" stroke="#3a3006" stroke-opacity=".5" stroke-width="1.3"/>
<ellipse cx="1172.5" cy="456.0" rx="11.6" ry="17.5" fill="url(#gold)" stroke="#3a3006" stroke-opacity=".5" stroke-width="1.3"/>
<ellipse cx="1094.9" cy="454.0" rx="11.6" ry="17.5" fill="url(#gold)" stroke="#3a3006" stroke-opacity=".5" stroke-width="1.3"/>
<ellipse cx="1106.6" cy="471.5" rx="13.6" ry="11.6" fill="url(#gold)" stroke="#3a3006" stroke-opacity=".5" stroke-width="1.3"/>
<ellipse cx="1133.7" cy="473.4" rx="13.6" ry="11.6" fill="url(#gold)" stroke="#3a3006" stroke-opacity=".5" stroke-width="1.3"/>
<ellipse cx="1160.9" cy="473.4" rx="13.6" ry="11.6" fill="url(#gold)" stroke="#3a3006" stroke-opacity=".5" stroke-width="1.3"/>
<circle cx="1118.2" cy="430.7" r="2.6" fill="url(#C)"/>
<circle cx="1118.2" cy="424.9" r="5.4" fill="url(#C)"/>
<circle cx="1117.6" cy="412.3" r="5.2" fill="url(#O)"/>
<circle cx="1159.0" cy="459.8" r="2.4" fill="url(#O)"/>
<circle cx="1159.0" cy="453.1" r="5.6" fill="url(#O)"/>
</g>
<rect x="1466.2" y="34.8" width="526.8" height="441.8" fill="none" stroke="#000" stroke-width="2.1"/>
<line x1="1455.7" y1="70.60000000000002" x2="1466.2" y2="70.60000000000002" stroke="#000" stroke-width="2.1"/>
<line x1="1455.7" y1="144.40000000000003" x2="1466.2" y2="144.40000000000003" stroke="#000" stroke-width="2.1"/>
<line x1="1455.7" y1="218.20000000000005" x2="1466.2" y2="218.20000000000005" stroke="#000" stroke-width="2.1"/>
<line x1="1455.7" y1="292.0" x2="1466.2" y2="292.0" stroke="#000" stroke-width="2.1"/>
<line x1="1455.7" y1="365.8" x2="1466.2" y2="365.8" stroke="#000" stroke-width="2.1"/>
<line x1="1455.7" y1="439.6" x2="1466.2" y2="439.6" stroke="#000" stroke-width="2.1"/>
<line x1="1460.7" y1="33.700000000000045" x2="1466.2" y2="33.700000000000045" stroke="#000" stroke-width="2.1"/>
<line x1="1460.7" y1="107.50000000000006" x2="1466.2" y2="107.50000000000006" stroke="#000" stroke-width="2.1"/>
<line x1="1460.7" y1="181.3" x2="1466.2" y2="181.3" stroke="#000" stroke-width="2.1"/>
<line x1="1460.7" y1="255.10000000000002" x2="1466.2" y2="255.10000000000002" stroke="#000" stroke-width="2.1"/>
<line x1="1460.7" y1="328.90000000000003" x2="1466.2" y2="328.90000000000003" stroke="#000" stroke-width="2.1"/>
<line x1="1460.7" y1="402.70000000000005" x2="1466.2" y2="402.70000000000005" stroke="#000" stroke-width="2.1"/>
<line x1="1460.7" y1="476.5" x2="1466.2" y2="476.5" stroke="#000" stroke-width="2.1"/>
<text x="1450.5" y="80.50000000000003" font-size="30" fill="#000" text-anchor="end" >5</text>
<text x="1450.5" y="154.30000000000004" font-size="30" fill="#000" text-anchor="end" >4</text>
<text x="1450.5" y="228.10000000000005" font-size="30" fill="#000" text-anchor="end" >3</text>
<text x="1450.5" y="301.9" font-size="30" fill="#000" text-anchor="end" >2</text>
<text x="1450.5" y="375.7" font-size="30" fill="#000" text-anchor="end" >1</text>
<text x="1450.5" y="449.5" font-size="30" fill="#000" text-anchor="end" >0</text>
<text transform="translate(1411.5,250) rotate(-90)" font-size="30" text-anchor="middle">Free Energy (eV)</text>
<polyline points="1493.4,439.6 1536.6,439.6 1601.8,373.2 1644.8,373.2 1710.5,350.3 1754.0,350.3 1818.2,155.5 1862.0,155.5 1927.8,76.5 1972.3,76.5" fill="none" stroke="#000" stroke-width="3.2" stroke-linejoin="miter" stroke-linecap="round"/>
<polyline points="1493.4,439.6 1536.6,439.6 1601.8,363.6 1644.8,363.6 1710.5,259.5 1754.0,259.5 1818.2,142.9 1862.0,142.9 1927.8,76.5 1972.3,76.5" fill="none" stroke="#ff6666" stroke-width="3.2" stroke-linejoin="miter" stroke-linecap="round"/>
<text x="1786" y="148" font-size="30" fill="#ff6666" text-anchor="middle" >1.59</text>
<text x="1803.3" y="322.6" font-size="30" fill="#000" text-anchor="middle" >2.64</text>
<polyline points="1489.6,59.8 1535.0,59.8" fill="none" stroke="#000" stroke-width="3.2" stroke-linejoin="miter" stroke-linecap="round"/>
<text x="1551" y="70" font-size="30" fill="#000" text-anchor="start" >Clean Au</text>
<polyline points="1489.6,109.9 1535.0,109.9" fill="none" stroke="#ff6666" stroke-width="3.2" stroke-linejoin="miter" stroke-linecap="round"/>
<text x="1549" y="118.5" font-size="30" fill="#000" text-anchor="start" >O–preadsorbed Au</text>
<text x="1520.3" y="512" font-size="30" fill="#000" text-anchor="middle" >H<tspan font-size="19" dy="10">2</tspan><tspan dy="-10" font-size="1">&#8203;</tspan>O</text>
<text x="1619" y="512" font-size="30" fill="#000" text-anchor="middle" >*OH</text>
<text x="1733.7" y="512" font-size="30" fill="#000" text-anchor="middle" >O*</text>
<text x="1847.8" y="512" font-size="30" fill="#000" text-anchor="middle" >*OOH</text>
<text x="1951.5" y="512" font-size="30" fill="#000" text-anchor="middle" >O<tspan font-size="19" dy="10">2</tspan><tspan dy="-10" font-size="1">&#8203;</tspan></text>
<g clip-path="url(#c10)">
<rect x="1585" y="270.1" width="67.7" height="79.8" fill="#b59a22"/>
<circle cx="1595.9" cy="261.6" r="11.9" fill="url(#gold)" stroke="#3a3006" stroke-opacity=".5" stroke-width="1.3"/>
<circle cx="1619.9" cy="261.6" r="11.9" fill="url(#gold)" stroke="#3a3006" stroke-opacity=".5" stroke-width="1.3"/>
<circle cx="1643.9" cy="261.6" r="11.9" fill="url(#gold)" stroke="#3a3006" stroke-opacity=".5" stroke-width="1.3"/>
<circle cx="1584.1" cy="280.8" r="11.9" fill="url(#gold)" stroke="#3a3006" stroke-opacity=".5" stroke-width="1.3"/>
<circle cx="1608.1" cy="280.8" r="11.9" fill="url(#gold)" stroke="#3a3006" stroke-opacity=".5" stroke-width="1.3"/>
<circle cx="1632.1" cy="280.8" r="11.9" fill="url(#gold)" stroke="#3a3006" stroke-opacity=".5" stroke-width="1.3"/>
<circle cx="1656.1" cy="280.8" r="11.9" fill="url(#gold)" stroke="#3a3006" stroke-opacity=".5" stroke-width="1.3"/>
<circle cx="1596.3" cy="300.0" r="11.9" fill="url(#gold)" stroke="#3a3006" stroke-opacity=".5" stroke-width="1.3"/>
<circle cx="1620.3" cy="300.0" r="11.9" fill="url(#gold)" stroke="#3a3006" stroke-opacity=".5" stroke-width="1.3"/>
<circle cx="1644.3" cy="300.0" r="11.9" fill="url(#gold)" stroke="#3a3006" stroke-opacity=".5" stroke-width="1.3"/>
<circle cx="1584.5" cy="319.2" r="11.9" fill="url(#gold)" stroke="#3a3006" stroke-opacity=".5" stroke-width="1.3"/>
<circle cx="1608.5" cy="319.2" r="11.9" fill="url(#gold)" stroke="#3a3006" stroke-opacity=".5" stroke-width="1.3"/>
<circle cx="1632.5" cy="319.2" r="11.9" fill="url(#gold)" stroke="#3a3006" stroke-opacity=".5" stroke-width="1.3"/>
<circle cx="1656.5" cy="319.2" r="11.9" fill="url(#gold)" stroke="#3a3006" stroke-opacity=".5" stroke-width="1.3"/>
<circle cx="1596.7" cy="338.4" r="11.9" fill="url(#gold)" stroke="#3a3006" stroke-opacity=".5" stroke-width="1.3"/>
<circle cx="1620.7" cy="338.4" r="11.9" fill="url(#gold)" stroke="#3a3006" stroke-opacity=".5" stroke-width="1.3"/>
<circle cx="1644.7" cy="338.4" r="11.9" fill="url(#gold)" stroke="#3a3006" stroke-opacity=".5" stroke-width="1.3"/>
<circle cx="1584.9" cy="357.6" r="11.9" fill="url(#gold)" stroke="#3a3006" stroke-opacity=".5" stroke-width="1.3"/>
<circle cx="1608.9" cy="357.6" r="11.9" fill="url(#gold)" stroke="#3a3006" stroke-opacity=".5" stroke-width="1.3"/>
<circle cx="1632.9" cy="357.6" r="11.9" fill="url(#gold)" stroke="#3a3006" stroke-opacity=".5" stroke-width="1.3"/>
<circle cx="1656.9" cy="357.6" r="11.9" fill="url(#gold)" stroke="#3a3006" stroke-opacity=".5" stroke-width="1.3"/>

<circle cx="1615.7239627434378" cy="299.14761501552357" r="3.7" fill="url(#Hh)"/>
<circle cx="1617.9819362122496" cy="293.2204346598927" r="3.5" fill="url(#O)"/>
<circle cx="1620.2399096810611" cy="325.1143099068586" r="3.8" fill="url(#O)"/>
</g>
<g clip-path="url(#c11)">
<rect x="1585" y="392" width="67.7" height="76.5" fill="#b59a22"/>
<circle cx="1593.1" cy="382.1" r="11.9" fill="url(#gold)" stroke="#3a3006" stroke-opacity=".5" stroke-width="1.3"/>
<circle cx="1617.1" cy="382.1" r="11.9" fill="url(#gold)" stroke="#3a3006" stroke-opacity=".5" stroke-width="1.3"/>
<circle cx="1641.1" cy="382.1" r="11.9" fill="url(#gold)" stroke="#3a3006" stroke-opacity=".5" stroke-width="1.3"/>
<circle cx="1581.3" cy="401.3" r="11.9" fill="url(#gold)" stroke="#3a3006" stroke-opacity=".5" stroke-width="1.3"/>
<circle cx="1605.3" cy="401.3" r="11.9" fill="url(#gold)" stroke="#3a3006" stroke-opacity=".5" stroke-width="1.3"/>
<circle cx="1629.3" cy="401.3" r="11.9" fill="url(#gold)" stroke="#3a3006" stroke-opacity=".5" stroke-width="1.3"/>
<circle cx="1653.3" cy="401.3" r="11.9" fill="url(#gold)" stroke="#3a3006" stroke-opacity=".5" stroke-width="1.3"/>
<circle cx="1593.5" cy="420.5" r="11.9" fill="url(#gold)" stroke="#3a3006" stroke-opacity=".5" stroke-width="1.3"/>
<circle cx="1617.5" cy="420.5" r="11.9" fill="url(#gold)" stroke="#3a3006" stroke-opacity=".5" stroke-width="1.3"/>
<circle cx="1641.5" cy="420.5" r="11.9" fill="url(#gold)" stroke="#3a3006" stroke-opacity=".5" stroke-width="1.3"/>
<circle cx="1581.7" cy="439.7" r="11.9" fill="url(#gold)" stroke="#3a3006" stroke-opacity=".5" stroke-width="1.3"/>
<circle cx="1605.7" cy="439.7" r="11.9" fill="url(#gold)" stroke="#3a3006" stroke-opacity=".5" stroke-width="1.3"/>
<circle cx="1629.7" cy="439.7" r="11.9" fill="url(#gold)" stroke="#3a3006" stroke-opacity=".5" stroke-width="1.3"/>
<circle cx="1653.7" cy="439.7" r="11.9" fill="url(#gold)" stroke="#3a3006" stroke-opacity=".5" stroke-width="1.3"/>
<circle cx="1593.9" cy="458.9" r="11.9" fill="url(#gold)" stroke="#3a3006" stroke-opacity=".5" stroke-width="1.3"/>
<circle cx="1617.9" cy="458.9" r="11.9" fill="url(#gold)" stroke="#3a3006" stroke-opacity=".5" stroke-width="1.3"/>
<circle cx="1641.9" cy="458.9" r="11.9" fill="url(#gold)" stroke="#3a3006" stroke-opacity=".5" stroke-width="1.3"/>
<circle cx="1582.1" cy="478.1" r="11.9" fill="url(#gold)" stroke="#3a3006" stroke-opacity=".5" stroke-width="1.3"/>
<circle cx="1606.1" cy="478.1" r="11.9" fill="url(#gold)" stroke="#3a3006" stroke-opacity=".5" stroke-width="1.3"/>
<circle cx="1630.1" cy="478.1" r="11.9" fill="url(#gold)" stroke="#3a3006" stroke-opacity=".5" stroke-width="1.3"/>
<circle cx="1654.1" cy="478.1" r="11.9" fill="url(#gold)" stroke="#3a3006" stroke-opacity=".5" stroke-width="1.3"/>

<circle cx="1612.9014959074232" cy="421.924922382162" r="3.7" fill="url(#Hh)"/>
<circle cx="1616.5707027942422" cy="416.27998871013267" r="3.5" fill="url(#O)"/>
</g>
<g clip-path="url(#c12)">
<rect x="1692.8" y="166.2" width="67.2" height="79.3" fill="#b59a22"/>
<circle cx="1699.3" cy="155.9" r="11.9" fill="url(#gold)" stroke="#3a3006" stroke-opacity=".5" stroke-width="1.3"/>
<circle cx="1723.3" cy="155.9" r="11.9" fill="url(#gold)" stroke="#3a3006" stroke-opacity=".5" stroke-width="1.3"/>
<circle cx="1747.3" cy="155.9" r="11.9" fill="url(#gold)" stroke="#3a3006" stroke-opacity=".5" stroke-width="1.3"/>
<circle cx="1771.3" cy="155.9" r="11.9" fill="url(#gold)" stroke="#3a3006" stroke-opacity=".5" stroke-width="1.3"/>
<circle cx="1687.1" cy="175.5" r="11.9" fill="url(#gold)" stroke="#3a3006" stroke-opacity=".5" stroke-width="1.3"/>
<circle cx="1711.1" cy="175.5" r="11.9" fill="url(#gold)" stroke="#3a3006" stroke-opacity=".5" stroke-width="1.3"/>
<circle cx="1735.1" cy="175.5" r="11.9" fill="url(#gold)" stroke="#3a3006" stroke-opacity=".5" stroke-width="1.3"/>
<circle cx="1759.1" cy="175.5" r="11.9" fill="url(#gold)" stroke="#3a3006" stroke-opacity=".5" stroke-width="1.3"/>
<circle cx="1698.9" cy="195.1" r="11.9" fill="url(#gold)" stroke="#3a3006" stroke-opacity=".5" stroke-width="1.3"/>
<circle cx="1722.9" cy="195.1" r="11.9" fill="url(#gold)" stroke="#3a3006" stroke-opacity=".5" stroke-width="1.3"/>
<circle cx="1746.9" cy="195.1" r="11.9" fill="url(#gold)" stroke="#3a3006" stroke-opacity=".5" stroke-width="1.3"/>
<circle cx="1770.9" cy="195.1" r="11.9" fill="url(#gold)" stroke="#3a3006" stroke-opacity=".5" stroke-width="1.3"/>
<circle cx="1686.7" cy="214.7" r="11.9" fill="url(#gold)" stroke="#3a3006" stroke-opacity=".5" stroke-width="1.3"/>
<circle cx="1710.7" cy="214.7" r="11.9" fill="url(#gold)" stroke="#3a3006" stroke-opacity=".5" stroke-width="1.3"/>
<circle cx="1734.7" cy="214.7" r="11.9" fill="url(#gold)" stroke="#3a3006" stroke-opacity=".5" stroke-width="1.3"/>
<circle cx="1758.7" cy="214.7" r="11.9" fill="url(#gold)" stroke="#3a3006" stroke-opacity=".5" stroke-width="1.3"/>
<circle cx="1698.5" cy="234.3" r="11.9" fill="url(#gold)" stroke="#3a3006" stroke-opacity=".5" stroke-width="1.3"/>
<circle cx="1722.5" cy="234.3" r="11.9" fill="url(#gold)" stroke="#3a3006" stroke-opacity=".5" stroke-width="1.3"/>
<circle cx="1746.5" cy="234.3" r="11.9" fill="url(#gold)" stroke="#3a3006" stroke-opacity=".5" stroke-width="1.3"/>
<circle cx="1770.5" cy="234.3" r="11.9" fill="url(#gold)" stroke="#3a3006" stroke-opacity=".5" stroke-width="1.3"/>
<circle cx="1686.3" cy="253.9" r="11.9" fill="url(#gold)" stroke="#3a3006" stroke-opacity=".5" stroke-width="1.3"/>
<circle cx="1710.3" cy="253.9" r="11.9" fill="url(#gold)" stroke="#3a3006" stroke-opacity=".5" stroke-width="1.3"/>
<circle cx="1734.3" cy="253.9" r="11.9" fill="url(#gold)" stroke="#3a3006" stroke-opacity=".5" stroke-width="1.3"/>
<circle cx="1758.3" cy="253.9" r="11.9" fill="url(#gold)" stroke="#3a3006" stroke-opacity=".5" stroke-width="1.3"/>

<circle cx="1737.090036692069" cy="189.07140841095116" r="4.0" fill="url(#O)"/>
<circle cx="1724.6711826136043" cy="213.06237651707593" r="4.0" fill="url(#O)"/>
</g>
<g clip-path="url(#c13)">
<rect x="1692.8" y="366" width="67.2" height="79.6" fill="#b59a22"/>
<circle cx="1704.0" cy="356.5" r="11.9" fill="url(#gold)" stroke="#3a3006" stroke-opacity=".5" stroke-width="1.3"/>
<circle cx="1727.6" cy="356.5" r="11.9" fill="url(#gold)" stroke="#3a3006" stroke-opacity=".5" stroke-width="1.3"/>
<circle cx="1751.2" cy="356.5" r="11.9" fill="url(#gold)" stroke="#3a3006" stroke-opacity=".5" stroke-width="1.3"/>
<circle cx="1691.8" cy="375.9" r="11.9" fill="url(#gold)" stroke="#3a3006" stroke-opacity=".5" stroke-width="1.3"/>
<circle cx="1715.4" cy="375.9" r="11.9" fill="url(#gold)" stroke="#3a3006" stroke-opacity=".5" stroke-width="1.3"/>
<circle cx="1739.0" cy="375.9" r="11.9" fill="url(#gold)" stroke="#3a3006" stroke-opacity=".5" stroke-width="1.3"/>
<circle cx="1762.6" cy="375.9" r="11.9" fill="url(#gold)" stroke="#3a3006" stroke-opacity=".5" stroke-width="1.3"/>
<circle cx="1703.2" cy="395.3" r="11.9" fill="url(#gold)" stroke="#3a3006" stroke-opacity=".5" stroke-width="1.3"/>
<circle cx="1726.8" cy="395.3" r="11.9" fill="url(#gold)" stroke="#3a3006" stroke-opacity=".5" stroke-width="1.3"/>
<circle cx="1750.4" cy="395.3" r="11.9" fill="url(#gold)" stroke="#3a3006" stroke-opacity=".5" stroke-width="1.3"/>
<circle cx="1691.0" cy="414.7" r="11.9" fill="url(#gold)" stroke="#3a3006" stroke-opacity=".5" stroke-width="1.3"/>
<circle cx="1714.6" cy="414.7" r="11.9" fill="url(#gold)" stroke="#3a3006" stroke-opacity=".5" stroke-width="1.3"/>
<circle cx="1738.2" cy="414.7" r="11.9" fill="url(#gold)" stroke="#3a3006" stroke-opacity=".5" stroke-width="1.3"/>
<circle cx="1761.8" cy="414.7" r="11.9" fill="url(#gold)" stroke="#3a3006" stroke-opacity=".5" stroke-width="1.3"/>
<circle cx="1702.4" cy="434.1" r="11.9" fill="url(#gold)" stroke="#3a3006" stroke-opacity=".5" stroke-width="1.3"/>
<circle cx="1726.0" cy="434.1" r="11.9" fill="url(#gold)" stroke="#3a3006" stroke-opacity=".5" stroke-width="1.3"/>
<circle cx="1749.6" cy="434.1" r="11.9" fill="url(#gold)" stroke="#3a3006" stroke-opacity=".5" stroke-width="1.3"/>
<circle cx="1690.2" cy="453.5" r="11.9" fill="url(#gold)" stroke="#3a3006" stroke-opacity=".5" stroke-width="1.3"/>
<circle cx="1713.8" cy="453.5" r="11.9" fill="url(#gold)" stroke="#3a3006" stroke-opacity=".5" stroke-width="1.3"/>
<circle cx="1737.4" cy="453.5" r="11.9" fill="url(#gold)" stroke="#3a3006" stroke-opacity=".5" stroke-width="1.3"/>
<circle cx="1761.0" cy="453.5" r="11.9" fill="url(#gold)" stroke="#3a3006" stroke-opacity=".5" stroke-width="1.3"/>

<circle cx="1715.3570420547558" cy="402.73214789726217" r="4.0" fill="url(#O)"/>
</g>
<g clip-path="url(#c14)">
<rect x="1819.1" y="37.1" width="67.8" height="78.5" fill="#b59a22"/>
<circle cx="1828.4" cy="25.3" r="11.9" fill="url(#gold)" stroke="#3a3006" stroke-opacity=".5" stroke-width="1.3"/>
<circle cx="1852.5" cy="25.3" r="11.9" fill="url(#gold)" stroke="#3a3006" stroke-opacity=".5" stroke-width="1.3"/>
<circle cx="1876.6" cy="25.3" r="11.9" fill="url(#gold)" stroke="#3a3006" stroke-opacity=".5" stroke-width="1.3"/>
<circle cx="1816.8" cy="45.2" r="11.9" fill="url(#gold)" stroke="#3a3006" stroke-opacity=".5" stroke-width="1.3"/>
<circle cx="1840.9" cy="45.2" r="11.9" fill="url(#gold)" stroke="#3a3006" stroke-opacity=".5" stroke-width="1.3"/>
<circle cx="1865.0" cy="45.2" r="11.9" fill="url(#gold)" stroke="#3a3006" stroke-opacity=".5" stroke-width="1.3"/>
<circle cx="1889.1" cy="45.2" r="11.9" fill="url(#gold)" stroke="#3a3006" stroke-opacity=".5" stroke-width="1.3"/>
<circle cx="1829.3" cy="65.1" r="11.9" fill="url(#gold)" stroke="#3a3006" stroke-opacity=".5" stroke-width="1.3"/>
<circle cx="1853.4" cy="65.1" r="11.9" fill="url(#gold)" stroke="#3a3006" stroke-opacity=".5" stroke-width="1.3"/>
<circle cx="1877.5" cy="65.1" r="11.9" fill="url(#gold)" stroke="#3a3006" stroke-opacity=".5" stroke-width="1.3"/>
<circle cx="1817.7" cy="85.0" r="11.9" fill="url(#gold)" stroke="#3a3006" stroke-opacity=".5" stroke-width="1.3"/>
<circle cx="1841.8" cy="85.0" r="11.9" fill="url(#gold)" stroke="#3a3006" stroke-opacity=".5" stroke-width="1.3"/>
<circle cx="1865.9" cy="85.0" r="11.9" fill="url(#gold)" stroke="#3a3006" stroke-opacity=".5" stroke-width="1.3"/>
<circle cx="1890.0" cy="85.0" r="11.9" fill="url(#gold)" stroke="#3a3006" stroke-opacity=".5" stroke-width="1.3"/>
<circle cx="1830.2" cy="104.9" r="11.9" fill="url(#gold)" stroke="#3a3006" stroke-opacity=".5" stroke-width="1.3"/>
<circle cx="1854.3" cy="104.9" r="11.9" fill="url(#gold)" stroke="#3a3006" stroke-opacity=".5" stroke-width="1.3"/>
<circle cx="1878.4" cy="104.9" r="11.9" fill="url(#gold)" stroke="#3a3006" stroke-opacity=".5" stroke-width="1.3"/>
<circle cx="1818.6" cy="124.8" r="11.9" fill="url(#gold)" stroke="#3a3006" stroke-opacity=".5" stroke-width="1.3"/>
<circle cx="1842.7" cy="124.8" r="11.9" fill="url(#gold)" stroke="#3a3006" stroke-opacity=".5" stroke-width="1.3"/>
<circle cx="1866.8" cy="124.8" r="11.9" fill="url(#gold)" stroke="#3a3006" stroke-opacity=".5" stroke-width="1.3"/>
<circle cx="1890.9" cy="124.8" r="11.9" fill="url(#gold)" stroke="#3a3006" stroke-opacity=".5" stroke-width="1.3"/>

<circle cx="1840.4462474645031" cy="65.9026369168357" r="3.9" fill="url(#Hh)"/>
<circle cx="1853.022312373225" cy="60.02028397565923" r="3.5" fill="url(#O)"/>
<circle cx="1848.5598377281947" cy="67.52535496957404" r="3.5" fill="url(#O)"/>
<circle cx="1854.4421906693713" cy="93.28600405679514" r="4.0" fill="url(#O)"/>
</g>
<g clip-path="url(#c15)">
<rect x="1819.1" y="166.9" width="67.8" height="79.5" fill="#b59a22"/>
<circle cx="1827.7" cy="156.4" r="11.9" fill="url(#gold)" stroke="#3a3006" stroke-opacity=".5" stroke-width="1.3"/>
<circle cx="1851.4" cy="156.4" r="11.9" fill="url(#gold)" stroke="#3a3006" stroke-opacity=".5" stroke-width="1.3"/>
<circle cx="1875.1" cy="156.4" r="11.9" fill="url(#gold)" stroke="#3a3006" stroke-opacity=".5" stroke-width="1.3"/>
<circle cx="1816.1" cy="176.0" r="11.9" fill="url(#gold)" stroke="#3a3006" stroke-opacity=".5" stroke-width="1.3"/>
<circle cx="1839.8" cy="176.0" r="11.9" fill="url(#gold)" stroke="#3a3006" stroke-opacity=".5" stroke-width="1.3"/>
<circle cx="1863.5" cy="176.0" r="11.9" fill="url(#gold)" stroke="#3a3006" stroke-opacity=".5" stroke-width="1.3"/>
<circle cx="1887.2" cy="176.0" r="11.9" fill="url(#gold)" stroke="#3a3006" stroke-opacity=".5" stroke-width="1.3"/>
<circle cx="1828.2" cy="195.6" r="11.9" fill="url(#gold)" stroke="#3a3006" stroke-opacity=".5" stroke-width="1.3"/>
<circle cx="1851.9" cy="195.6" r="11.9" fill="url(#gold)" stroke="#3a3006" stroke-opacity=".5" stroke-width="1.3"/>
<circle cx="1875.6" cy="195.6" r="11.9" fill="url(#gold)" stroke="#3a3006" stroke-opacity=".5" stroke-width="1.3"/>
<circle cx="1816.6" cy="215.2" r="11.9" fill="url(#gold)" stroke="#3a3006" stroke-opacity=".5" stroke-width="1.3"/>
<circle cx="1840.3" cy="215.2" r="11.9" fill="url(#gold)" stroke="#3a3006" stroke-opacity=".5" stroke-width="1.3"/>
<circle cx="1864.0" cy="215.2" r="11.9" fill="url(#gold)" stroke="#3a3006" stroke-opacity=".5" stroke-width="1.3"/>
<circle cx="1887.7" cy="215.2" r="11.9" fill="url(#gold)" stroke="#3a3006" stroke-opacity=".5" stroke-width="1.3"/>
<circle cx="1828.7" cy="234.8" r="11.9" fill="url(#gold)" stroke="#3a3006" stroke-opacity=".5" stroke-width="1.3"/>
<circle cx="1852.4" cy="234.8" r="11.9" fill="url(#gold)" stroke="#3a3006" stroke-opacity=".5" stroke-width="1.3"/>
<circle cx="1876.1" cy="234.8" r="11.9" fill="url(#gold)" stroke="#3a3006" stroke-opacity=".5" stroke-width="1.3"/>
<circle cx="1817.1" cy="254.4" r="11.9" fill="url(#gold)" stroke="#3a3006" stroke-opacity=".5" stroke-width="1.3"/>
<circle cx="1840.8" cy="254.4" r="11.9" fill="url(#gold)" stroke="#3a3006" stroke-opacity=".5" stroke-width="1.3"/>
<circle cx="1864.5" cy="254.4" r="11.9" fill="url(#gold)" stroke="#3a3006" stroke-opacity=".5" stroke-width="1.3"/>
<circle cx="1888.2" cy="254.4" r="11.9" fill="url(#gold)" stroke="#3a3006" stroke-opacity=".5" stroke-width="1.3"/>

<circle cx="1839.4320486815416" cy="199.3711967545639" r="3.9" fill="url(#Hh)"/>
<circle cx="1844.9087221095335" cy="204.03651115618663" r="3.5" fill="url(#O)"/>
<circle cx="1853.022312373225" cy="197.34279918864098" r="3.5" fill="url(#O)"/>
</g>
<g clip-path="url(#cd)"><g filter="url(#bl)">
<rect x="101.5" y="614.0" width="541.2" height="451.0" fill="#fff"/>
<path d="M43.3,609.0L43.3,1070.0M54.3,609.0L54.3,1070.0M76.4,609.0L76.4,1070.0M186.8,609.0L186.8,1070.0M208.9,609.0L208.9,1070.0M219.9,609.0L219.9,1070.0M297.2,609.0L297.2,1070.0M374.5,609.0L374.5,1070.0M385.5,609.0L385.5,1070.0M407.6,609.0L407.6,1070.0M518.0,609.0L518.0,1070.0M540.1,609.0L540.1,1070.0M551.1,609.0L551.1,1070.0M628.4,609.0L628.4,1070.0M705.7,609.0L705.7,1070.0M716.7,609.0L716.7,1070.0M738.8,609.0L738.8,1070.0M86.5,986.5L657.7,1308.0M86.5,998.5L657.7,1320.0M86.5,1023.6L657.7,1345.0M86.5,899.3L657.7,1220.8M86.5,800.1L657.7,1121.6M86.5,812.1L657.7,1133.6M86.5,775.0L657.7,1096.5M86.5,633.4L657.7,311.9M86.5,645.4L657.7,323.9M86.5,613.7L657.7,935.2M86.5,625.7L657.7,947.2M86.5,650.8L657.7,972.2M86.5,732.6L657.7,411.1M86.5,526.5L657.7,848.0M86.5,819.8L657.7,498.3M86.5,831.8L657.7,510.3M86.5,856.8L657.7,535.4M86.5,427.3L657.7,748.8M86.5,439.3L657.7,760.8M86.5,402.2L657.7,723.7M86.5,981.1L657.7,659.6M86.5,1006.2L657.7,684.7M86.5,1018.2L657.7,696.7M86.5,1105.4L657.7,783.9M86.5,1192.6L657.7,871.1M86.5,1204.6L657.7,883.1M86.5,1229.6L657.7,908.2M86.5,1353.9L657.7,1032.4M86.5,1379.0L657.7,1057.5M86.5,1391.0L657.7,1069.5" fill="none" stroke="#a48624" stroke-width="6.2"/>
<path d="M43.3,609.0L43.3,1070.0M54.3,609.0L54.3,1070.0M76.4,609.0L76.4,1070.0M186.8,609.0L186.8,1070.0M208.9,609.0L208.9,1070.0M219.9,609.0L219.9,1070.0M297.2,609.0L297.2,1070.0M374.5,609.0L374.5,1070.0M385.5,609.0L385.5,1070.0M407.6,609.0L407.6,1070.0M518.0,609.0L518.0,1070.0M540.1,609.0L540.1,1070.0M551.1,609.0L551.1,1070.0M628.4,609.0L628.4,1070.0M705.7,609.0L705.7,1070.0M716.7,609.0L716.7,1070.0M738.8,609.0L738.8,1070.0M86.5,986.5L657.7,1308.0M86.5,998.5L657.7,1320.0M86.5,1023.6L657.7,1345.0M86.5,899.3L657.7,1220.8M86.5,800.1L657.7,1121.6M86.5,812.1L657.7,1133.6M86.5,775.0L657.7,1096.5M86.5,633.4L657.7,311.9M86.5,645.4L657.7,323.9M86.5,613.7L657.7,935.2M86.5,625.7L657.7,947.2M86.5,650.8L657.7,972.2M86.5,732.6L657.7,411.1M86.5,526.5L657.7,848.0M86.5,819.8L657.7,498.3M86.5,831.8L657.7,510.3M86.5,856.8L657.7,535.4M86.5,427.3L657.7,748.8M86.5,439.3L657.7,760.8M86.5,402.2L657.7,723.7M86.5,981.1L657.7,659.6M86.5,1006.2L657.7,684.7M86.5,1018.2L657.7,696.7M86.5,1105.4L657.7,783.9M86.5,1192.6L657.7,871.1M86.5,1204.6L657.7,883.1M86.5,1229.6L657.7,908.2M86.5,1353.9L657.7,1032.4M86.5,1379.0L657.7,1057.5M86.5,1391.0L657.7,1069.5" fill="none" stroke="#e3ba2a" stroke-width="4.4"/>
<path d="M43.3,609.0L43.3,1070.0M54.3,609.0L54.3,1070.0M76.4,609.0L76.4,1070.0M186.8,609.0L186.8,1070.0M208.9,609.0L208.9,1070.0M219.9,609.0L219.9,1070.0M297.2,609.0L297.2,1070.0M374.5,609.0L374.5,1070.0M385.5,609.0L385.5,1070.0M407.6,609.0L407.6,1070.0M518.0,609.0L518.0,1070.0M540.1,609.0L540.1,1070.0M551.1,609.0L551.1,1070.0M628.4,609.0L628.4,1070.0M705.7,609.0L705.7,1070.0M716.7,609.0L716.7,1070.0M738.8,609.0L738.8,1070.0M86.5,986.5L657.7,1308.0M86.5,998.5L657.7,1320.0M86.5,1023.6L657.7,1345.0M86.5,899.3L657.7,1220.8M86.5,800.1L657.7,1121.6M86.5,812.1L657.7,1133.6M86.5,775.0L657.7,1096.5M86.5,633.4L657.7,311.9M86.5,645.4L657.7,323.9M86.5,613.7L657.7,935.2M86.5,625.7L657.7,947.2M86.5,650.8L657.7,972.2M86.5,732.6L657.7,411.1M86.5,526.5L657.7,848.0M86.5,819.8L657.7,498.3M86.5,831.8L657.7,510.3M86.5,856.8L657.7,535.4M86.5,427.3L657.7,748.8M86.5,439.3L657.7,760.8M86.5,402.2L657.7,723.7M86.5,981.1L657.7,659.6M86.5,1006.2L657.7,684.7M86.5,1018.2L657.7,696.7M86.5,1105.4L657.7,783.9M86.5,1192.6L657.7,871.1M86.5,1204.6L657.7,883.1M86.5,1229.6L657.7,908.2M86.5,1353.9L657.7,1032.4M86.5,1379.0L657.7,1057.5M86.5,1391.0L657.7,1069.5" fill="none" stroke="#fbe755" stroke-width="1.6"/>
<path d="M104.0,609.0L104.0,1070.0M159.2,609.0L159.2,1070.0M269.6,609.0L269.6,1070.0M324.8,609.0L324.8,1070.0M435.2,609.0L435.2,1070.0M490.4,609.0L490.4,1070.0M600.8,609.0L600.8,1070.0M656.0,609.0L656.0,1070.0M766.4,609.0L766.4,1070.0M86.5,1054.6L657.7,1376.1M86.5,930.4L657.7,1251.8M86.5,868.2L657.7,1189.7M86.5,744.0L657.7,1065.4M86.5,681.8L657.7,1003.3M86.5,701.5L657.7,380.0M86.5,557.6L657.7,879.0M86.5,763.6L657.7,442.2M86.5,495.4L657.7,816.9M86.5,887.9L657.7,566.4M86.5,371.2L657.7,692.6M86.5,950.0L657.7,628.6M86.5,309.0L657.7,630.5M86.5,1074.3L657.7,752.8M86.5,1136.4L657.7,815.0M86.5,1260.7L657.7,939.2M86.5,1322.8L657.7,1001.4" fill="none" stroke="#a48624" stroke-width="9.6"/>
<path d="M104.0,609.0L104.0,1070.0M159.2,609.0L159.2,1070.0M269.6,609.0L269.6,1070.0M324.8,609.0L324.8,1070.0M435.2,609.0L435.2,1070.0M490.4,609.0L490.4,1070.0M600.8,609.0L600.8,1070.0M656.0,609.0L656.0,1070.0M766.4,609.0L766.4,1070.0M86.5,1054.6L657.7,1376.1M86.5,930.4L657.7,1251.8M86.5,868.2L657.7,1189.7M86.5,744.0L657.7,1065.4M86.5,681.8L657.7,1003.3M86.5,701.5L657.7,380.0M86.5,557.6L657.7,879.0M86.5,763.6L657.7,442.2M86.5,495.4L657.7,816.9M86.5,887.9L657.7,566.4M86.5,371.2L657.7,692.6M86.5,950.0L657.7,628.6M86.5,309.0L657.7,630.5M86.5,1074.3L657.7,752.8M86.5,1136.4L657.7,815.0M86.5,1260.7L657.7,939.2M86.5,1322.8L657.7,1001.4" fill="none" stroke="#e3ba2a" stroke-width="7.8"/>
<path d="M104.0,609.0L104.0,1070.0M159.2,609.0L159.2,1070.0M269.6,609.0L269.6,1070.0M324.8,609.0L324.8,1070.0M435.2,609.0L435.2,1070.0M490.4,609.0L490.4,1070.0M600.8,609.0L600.8,1070.0M656.0,609.0L656.0,1070.0M766.4,609.0L766.4,1070.0M86.5,1054.6L657.7,1376.1M86.5,930.4L657.7,1251.8M86.5,868.2L657.7,1189.7M86.5,744.0L657.7,1065.4M86.5,681.8L657.7,1003.3M86.5,701.5L657.7,380.0M86.5,557.6L657.7,879.0M86.5,763.6L657.7,442.2M86.5,495.4L657.7,816.9M86.5,887.9L657.7,566.4M86.5,371.2L657.7,692.6M86.5,950.0L657.7,628.6M86.5,309.0L657.7,630.5M86.5,1074.3L657.7,752.8M86.5,1136.4L657.7,815.0M86.5,1260.7L657.7,939.2M86.5,1322.8L657.7,1001.4" fill="none" stroke="#fbe755" stroke-width="2.8"/>
<circle cx="-108.8" cy="568.4" r="33.5" fill="#c09c30"/>
<circle cx="-116.8" cy="567.4" r="34.5" fill="url(#gd)"/>
<circle cx="1.6" cy="568.4" r="33.5" fill="#c09c30"/>
<circle cx="-6.4" cy="567.4" r="34.5" fill="url(#gd)"/>
<circle cx="112.0" cy="568.4" r="33.5" fill="#c09c30"/>
<circle cx="104.0" cy="567.4" r="34.5" fill="url(#gd)"/>
<circle cx="222.4" cy="568.4" r="33.5" fill="#c09c30"/>
<circle cx="214.4" cy="567.4" r="34.5" fill="url(#gd)"/>
<circle cx="332.8" cy="568.4" r="33.5" fill="#c09c30"/>
<circle cx="324.8" cy="567.4" r="34.5" fill="url(#gd)"/>
<circle cx="443.2" cy="568.4" r="33.5" fill="#c09c30"/>
<circle cx="435.2" cy="567.4" r="34.5" fill="url(#gd)"/>
<circle cx="553.6" cy="568.4" r="33.5" fill="#c09c30"/>
<circle cx="545.6" cy="567.4" r="34.5" fill="url(#gd)"/>
<circle cx="664.0" cy="568.4" r="33.5" fill="#c09c30"/>
<circle cx="656.0" cy="567.4" r="34.5" fill="url(#gd)"/>
<circle cx="774.4" cy="568.4" r="33.5" fill="#c09c30"/>
<circle cx="766.4" cy="567.4" r="34.5" fill="url(#gd)"/>
<circle cx="-53.6" cy="661.6" r="33.5" fill="#c09c30"/>
<circle cx="-61.6" cy="660.6" r="34.5" fill="url(#gd)"/>
<circle cx="56.8" cy="661.6" r="33.5" fill="#c09c30"/>
<circle cx="48.8" cy="660.6" r="34.5" fill="url(#gd)"/>
<circle cx="167.2" cy="661.6" r="33.5" fill="#c09c30"/>
<circle cx="159.2" cy="660.6" r="34.5" fill="url(#gd)"/>
<circle cx="277.6" cy="661.6" r="33.5" fill="#c09c30"/>
<circle cx="269.6" cy="660.6" r="34.5" fill="url(#gd)"/>
<circle cx="388.0" cy="661.6" r="33.5" fill="#c09c30"/>
<circle cx="380.0" cy="660.6" r="34.5" fill="url(#gd)"/>
<circle cx="498.4" cy="661.6" r="33.5" fill="#c09c30"/>
<circle cx="490.4" cy="660.6" r="34.5" fill="url(#gd)"/>
<circle cx="608.8" cy="661.6" r="33.5" fill="#c09c30"/>
<circle cx="600.8" cy="660.6" r="34.5" fill="url(#gd)"/>
<circle cx="719.2" cy="661.6" r="33.5" fill="#c09c30"/>
<circle cx="711.2" cy="660.6" r="34.5" fill="url(#gd)"/>
<circle cx="829.6" cy="661.6" r="33.5" fill="#c09c30"/>
<circle cx="821.6" cy="660.6" r="34.5" fill="url(#gd)"/>
<circle cx="-108.8" cy="754.8" r="33.5" fill="#c09c30"/>
<circle cx="-116.8" cy="753.8" r="34.5" fill="url(#gd)"/>
<circle cx="1.6" cy="754.8" r="33.5" fill="#c09c30"/>
<circle cx="-6.4" cy="753.8" r="34.5" fill="url(#gd)"/>
<circle cx="112.0" cy="754.8" r="33.5" fill="#c09c30"/>
<circle cx="104.0" cy="753.8" r="34.5" fill="url(#gd)"/>
<circle cx="222.4" cy="754.8" r="33.5" fill="#c09c30"/>
<circle cx="214.4" cy="753.8" r="34.5" fill="url(#gd)"/>
<circle cx="443.2" cy="754.8" r="33.5" fill="#c09c30"/>
<circle cx="435.2" cy="753.8" r="34.5" fill="url(#gd)"/>
<circle cx="553.6" cy="754.8" r="33.5" fill="#c09c30"/>
<circle cx="545.6" cy="753.8" r="34.5" fill="url(#gd)"/>
<circle cx="664.0" cy="754.8" r="33.5" fill="#c09c30"/>
<circle cx="656.0" cy="753.8" r="34.5" fill="url(#gd)"/>
<circle cx="774.4" cy="754.8" r="33.5" fill="#c09c30"/>
<circle cx="766.4" cy="753.8" r="34.5" fill="url(#gd)"/>
<circle cx="-53.6" cy="848.0" r="33.5" fill="#c09c30"/>
<circle cx="-61.6" cy="847.0" r="34.5" fill="url(#gd)"/>
<circle cx="56.8" cy="848.0" r="33.5" fill="#c09c30"/>
<circle cx="48.8" cy="847.0" r="34.5" fill="url(#gd)"/>
<circle cx="167.2" cy="848.0" r="33.5" fill="#c09c30"/>
<circle cx="159.2" cy="847.0" r="34.5" fill="url(#gd)"/>
<circle cx="277.6" cy="848.0" r="33.5" fill="#c09c30"/>
<circle cx="269.6" cy="847.0" r="34.5" fill="url(#gd)"/>
<circle cx="608.8" cy="848.0" r="33.5" fill="#c09c30"/>
<circle cx="600.8" cy="847.0" r="34.5" fill="url(#gd)"/>
<circle cx="719.2" cy="848.0" r="33.5" fill="#c09c30"/>
<circle cx="711.2" cy="847.0" r="34.5" fill="url(#gd)"/>
<circle cx="829.6" cy="848.0" r="33.5" fill="#c09c30"/>
<circle cx="821.6" cy="847.0" r="34.5" fill="url(#gd)"/>
<circle cx="-108.8" cy="941.2" r="33.5" fill="#c09c30"/>
<circle cx="-116.8" cy="940.2" r="34.5" fill="url(#gd)"/>
<circle cx="1.6" cy="941.2" r="33.5" fill="#c09c30"/>
<circle cx="-6.4" cy="940.2" r="34.5" fill="url(#gd)"/>
<circle cx="112.0" cy="941.2" r="33.5" fill="#c09c30"/>
<circle cx="104.0" cy="940.2" r="34.5" fill="url(#gd)"/>
<circle cx="222.4" cy="941.2" r="33.5" fill="#c09c30"/>
<circle cx="214.4" cy="940.2" r="34.5" fill="url(#gd)"/>
<circle cx="443.2" cy="941.2" r="33.5" fill="#c09c30"/>
<circle cx="435.2" cy="940.2" r="34.5" fill="url(#gd)"/>
<circle cx="553.6" cy="941.2" r="33.5" fill="#c09c30"/>
<circle cx="545.6" cy="940.2" r="34.5" fill="url(#gd)"/>
<circle cx="664.0" cy="941.2" r="33.5" fill="#c09c30"/>
<circle cx="656.0" cy="940.2" r="34.5" fill="url(#gd)"/>
<circle cx="774.4" cy="941.2" r="33.5" fill="#c09c30"/>
<circle cx="766.4" cy="940.2" r="34.5" fill="url(#gd)"/>
<circle cx="-53.6" cy="1034.4" r="33.5" fill="#c09c30"/>
<circle cx="-61.6" cy="1033.4" r="34.5" fill="url(#gd)"/>
<circle cx="56.8" cy="1034.4" r="33.5" fill="#c09c30"/>
<circle cx="48.8" cy="1033.4" r="34.5" fill="url(#gd)"/>
<circle cx="167.2" cy="1034.4" r="33.5" fill="#c09c30"/>
<circle cx="159.2" cy="1033.4" r="34.5" fill="url(#gd)"/>
<circle cx="277.6" cy="1034.4" r="33.5" fill="#c09c30"/>
<circle cx="269.6" cy="1033.4" r="34.5" fill="url(#gd)"/>
<circle cx="388.0" cy="1034.4" r="33.5" fill="#c09c30"/>
<circle cx="380.0" cy="1033.4" r="34.5" fill="url(#gd)"/>
<circle cx="498.4" cy="1034.4" r="33.5" fill="#c09c30"/>
<circle cx="490.4" cy="1033.4" r="34.5" fill="url(#gd)"/>
<circle cx="608.8" cy="1034.4" r="33.5" fill="#c09c30"/>
<circle cx="600.8" cy="1033.4" r="34.5" fill="url(#gd)"/>
<circle cx="719.2" cy="1034.4" r="33.5" fill="#c09c30"/>
<circle cx="711.2" cy="1033.4" r="34.5" fill="url(#gd)"/>
<circle cx="829.6" cy="1034.4" r="33.5" fill="#c09c30"/>
<circle cx="821.6" cy="1033.4" r="34.5" fill="url(#gd)"/>
<circle cx="-108.8" cy="1127.6" r="33.5" fill="#c09c30"/>
<circle cx="-116.8" cy="1126.6" r="34.5" fill="url(#gd)"/>
<circle cx="1.6" cy="1127.6" r="33.5" fill="#c09c30"/>
<circle cx="-6.4" cy="1126.6" r="34.5" fill="url(#gd)"/>
<circle cx="112.0" cy="1127.6" r="33.5" fill="#c09c30"/>
<circle cx="104.0" cy="1126.6" r="34.5" fill="url(#gd)"/>
<circle cx="222.4" cy="1127.6" r="33.5" fill="#c09c30"/>
<circle cx="214.4" cy="1126.6" r="34.5" fill="url(#gd)"/>
<circle cx="332.8" cy="1127.6" r="33.5" fill="#c09c30"/>
<circle cx="324.8" cy="1126.6" r="34.5" fill="url(#gd)"/>
<circle cx="443.2" cy="1127.6" r="33.5" fill="#c09c30"/>
<circle cx="435.2" cy="1126.6" r="34.5" fill="url(#gd)"/>
<circle cx="553.6" cy="1127.6" r="33.5" fill="#c09c30"/>
<circle cx="545.6" cy="1126.6" r="34.5" fill="url(#gd)"/>
<circle cx="664.0" cy="1127.6" r="33.5" fill="#c09c30"/>
<circle cx="656.0" cy="1126.6" r="34.5" fill="url(#gd)"/>
<circle cx="774.4" cy="1127.6" r="33.5" fill="#c09c30"/>
<circle cx="766.4" cy="1126.6" r="34.5" fill="url(#gd)"/>
<circle cx="319.4" cy="749.5" r="34.5" fill="url(#gd)"/>
<circle cx="319.4" cy="943.5" r="34.5" fill="url(#gd)"/>
<circle cx="500.8" cy="846.4" r="34.5" fill="url(#gd)"/>
<path d="M-197.2,567.4L-136.8,567.4M-107.8,549.7L-95.8,528.9M-86.8,567.4L-26.4,567.4M2.6,549.7L14.6,528.9M23.6,567.4L84.0,567.4M113.0,549.7L125.0,528.9M134.0,567.4L194.4,567.4M223.4,549.7L235.4,528.9M244.4,567.4L304.8,567.4M333.8,549.7L345.8,528.9M354.8,567.4L415.2,567.4M444.2,549.7L456.2,528.9M465.2,567.4L525.6,567.4M554.6,549.7L566.6,528.9M575.6,567.4L636.0,567.4M665.0,549.7L677.0,528.9M686.0,567.4L746.4,567.4M775.4,549.7L787.4,528.9M-52.6,642.9L-40.6,622.1M57.8,642.9L69.8,622.1M168.2,642.9L180.2,622.1M278.6,642.9L290.6,622.1M389.0,642.9L401.0,622.1M499.4,642.9L511.4,622.1M609.8,642.9L621.8,622.1M720.2,642.9L732.2,622.1M830.6,642.9L842.6,622.1M-197.2,753.8L-136.8,753.8M-107.8,736.1L-95.8,715.3M-86.8,753.8L-26.4,753.8M2.6,736.1L14.6,715.3M23.6,753.8L84.0,753.8M113.0,736.1L125.0,715.3M134.0,753.8L194.4,753.8M223.4,736.1L235.4,715.3M354.8,753.8L415.2,753.8M444.2,736.1L456.2,715.3M465.2,753.8L525.6,753.8M554.6,736.1L566.6,715.3M575.6,753.8L636.0,753.8M665.0,736.1L677.0,715.3M686.0,753.8L746.4,753.8M775.4,736.1L787.4,715.3M-52.6,829.3L-40.6,808.5M57.8,829.3L69.8,808.5M168.2,829.3L180.2,808.5M278.6,829.3L290.6,808.5M609.8,829.3L621.8,808.5M720.2,829.3L732.2,808.5M830.6,829.3L842.6,808.5M-197.2,940.2L-136.8,940.2M-107.8,922.5L-95.8,901.7M-86.8,940.2L-26.4,940.2M2.6,922.5L14.6,901.7M23.6,940.2L84.0,940.2M113.0,922.5L125.0,901.7M134.0,940.2L194.4,940.2M223.4,922.5L235.4,901.7M354.8,940.2L415.2,940.2M444.2,922.5L456.2,901.7M465.2,940.2L525.6,940.2M554.6,922.5L566.6,901.7M575.6,940.2L636.0,940.2M665.0,922.5L677.0,901.7M686.0,940.2L746.4,940.2M775.4,922.5L787.4,901.7M-52.6,1015.7L-40.6,994.9M57.8,1015.7L69.8,994.9M168.2,1015.7L180.2,994.9M278.6,1015.7L290.6,994.9M389.0,1015.7L401.0,994.9M499.4,1015.7L511.4,994.9M609.8,1015.7L621.8,994.9M720.2,1015.7L732.2,994.9M830.6,1015.7L842.6,994.9M-197.2,1126.6L-136.8,1126.6M-107.8,1108.9L-95.8,1088.1M-86.8,1126.6L-26.4,1126.6M2.6,1108.9L14.6,1088.1M23.6,1126.6L84.0,1126.6M113.0,1108.9L125.0,1088.1M134.0,1126.6L194.4,1126.6M223.4,1108.9L235.4,1088.1M244.4,1126.6L304.8,1126.6M333.8,1108.9L345.8,1088.1M354.8,1126.6L415.2,1126.6M444.2,1108.9L456.2,1088.1M465.2,1126.6L525.6,1126.6M554.6,1108.9L566.6,1088.1M575.6,1126.6L636.0,1126.6M665.0,1108.9L677.0,1088.1M686.0,1126.6L746.4,1126.6M775.4,1108.9L787.4,1088.1" fill="none" stroke="#b3962d" stroke-width="8" stroke-linecap="round"/>
</g>
<g filter="url(#bl2)">
<ellipse cx="298.5" cy="706" rx="26" ry="22" transform="rotate(-30 298.5 706)" fill="url(#cy)" opacity="0.93"/>
<ellipse cx="297" cy="988" rx="26" ry="22" transform="rotate(30 297 988)" fill="url(#cy)" opacity="0.93"/>
<ellipse cx="541" cy="847" rx="22" ry="27" transform="rotate(0 541 847)" fill="url(#cy)" opacity="0.93"/>
<circle cx="281" cy="677" r="5.5" fill="none" stroke="#2bb9c0" stroke-width="2.6"/>
<circle cx="281" cy="1017" r="5.5" fill="none" stroke="#2bb9c0" stroke-width="2.6"/>
<circle cx="580.5" cy="847" r="5.5" fill="none" stroke="#2bb9c0" stroke-width="2.6"/>
<g transform="translate(319.4,749.5) rotate(-120)"><path d="M 4,-23 C 26,-22 33,-8 33,0 C 33,8 26,22 4,23 C 0,10 0,-10 4,-23 Z" fill="#ece22a" stroke="#c9bd22" stroke-width="1.5" opacity="0.96"/><ellipse cx="17" cy="0" rx="9" ry="14" fill="#f4ee55" opacity="0.7"/></g>
<g transform="translate(319.4,943.5) rotate(120)"><path d="M 4,-23 C 26,-22 33,-8 33,0 C 33,8 26,22 4,23 C 0,10 0,-10 4,-23 Z" fill="#ece22a" stroke="#c9bd22" stroke-width="1.5" opacity="0.96"/><ellipse cx="17" cy="0" rx="9" ry="14" fill="#f4ee55" opacity="0.7"/></g>
<g transform="translate(500.8,846.4) rotate(0)"><path d="M 4,-23 C 26,-22 33,-8 33,0 C 33,8 26,22 4,23 C 0,10 0,-10 4,-23 Z" fill="#ece22a" stroke="#c9bd22" stroke-width="1.5" opacity="0.96"/><ellipse cx="17" cy="0" rx="9" ry="14" fill="#f4ee55" opacity="0.7"/></g>
<g transform="translate(376.4,846.4) rotate(-120)"><path d="M 38,-46 C 62,-52 92,-42 106,-14 C 112,-4 112,4 106,14 C 92,42 62,52 38,46 C 20,30 20,-30 38,-46 Z" fill="url(#cy)" opacity="0.95"/><ellipse cx="86" cy="0" rx="14" ry="19" fill="#7fcf9a" opacity="0.85"/></g>
<g transform="translate(376.4,846.4) rotate(120)"><path d="M 38,-46 C 62,-52 92,-42 106,-14 C 112,-4 112,4 106,14 C 92,42 62,52 38,46 C 20,30 20,-30 38,-46 Z" fill="url(#cy)" opacity="0.95"/><ellipse cx="86" cy="0" rx="14" ry="19" fill="#7fcf9a" opacity="0.85"/></g>
<g transform="translate(376.4,846.4) rotate(0)"><path d="M 38,-46 C 62,-52 92,-42 106,-14 C 112,-4 112,4 106,14 C 92,42 62,52 38,46 C 20,30 20,-30 38,-46 Z" fill="url(#cy)" opacity="0.95"/><ellipse cx="86" cy="0" rx="14" ry="19" fill="#7fcf9a" opacity="0.85"/></g>
<path d="M 392.4,846.4 L 356.4,818.4 L 356.4,875.4 Z" fill="#b3a722" stroke="#b3a722" stroke-width="72" stroke-linejoin="round"/>
<path d="M 390.4,846.4 L 358.4,821.4 L 358.4,872.4 Z" fill="#c2b928" stroke="#c2b928" stroke-width="62" stroke-linejoin="round"/>
<circle cx="376.4" cy="846.4" r="30" fill="#dfe03e" opacity="0.75"/>
<circle cx="376.4" cy="846.4" r="22" fill="#d9ee3c" opacity="0.9"/>
<g transform="translate(376.4,846.4) rotate(-120)"><line x1="27" y1="0" x2="46" y2="0" stroke="#ee8a1c" stroke-width="7" stroke-linecap="butt"/></g>
<g transform="translate(376.4,846.4) rotate(120)"><line x1="27" y1="0" x2="46" y2="0" stroke="#ee8a1c" stroke-width="7" stroke-linecap="butt"/></g>
<g transform="translate(376.4,846.4) rotate(0)"><line x1="27" y1="0" x2="46" y2="0" stroke="#ee8a1c" stroke-width="7" stroke-linecap="butt"/></g>
<circle cx="376.4" cy="846.4" r="16.5" fill="url(#og)"/>
</g></g>
<circle cx="1067.4" cy="845.2" r="112" fill="url(#sun)"/>
<path d="M1034.2,640.9 A207.40202477810243,207.40202477810243 0 0 0 966.8,664.3" fill="none" stroke="#ff6666" stroke-width="4.0"/>
<path d="M954.2,671.8 L968.3,654.4 L967.2,664.2 L976.3,668.2 Z" fill="#ff6666"/>
<path d="M920.1,700.8 A206.53607302377293,206.53607302377293 0 0 0 884.4,749.8" fill="none" stroke="#ff6666" stroke-width="4.0"/>
<path d="M878.1,763.1 L880.3,740.7 L884.8,749.5 L894.6,747.8 Z" fill="#ff6666"/>
<path d="M868.8,790.5 A206.08809101940756,206.08809101940756 0 0 0 862.1,864.2" fill="none" stroke="#ff6666" stroke-width="4.0"/>
<path d="M864.0,878.7 L853.7,858.7 L862.3,863.7 L869.6,857.0 Z" fill="#ff6666"/>
<path d="M871.9,906.9 A204.9088383779398,204.9088383779398 0 0 0 906.1,972.0" fill="none" stroke="#ff6666" stroke-width="4.0"/>
<path d="M915.6,983.2 L896.1,972.0 L906.0,971.5 L908.5,961.9 Z" fill="#ff6666"/>
<path d="M949.6,1012.6 A204.37179009249743,204.37179009249743 0 0 0 1033.5,1047.1" fill="none" stroke="#ff6666" stroke-width="5.0"/>
<path d="M1048.1,1049.1 L1026.1,1053.9 L1033.1,1046.9 L1028.5,1038.1 Z" fill="#ff6666"/>
<path d="M968,1022 C980,1032 989,1052 990.6,1083" fill="none" stroke="#ff6666" stroke-width="5.0"/>
<path d="M990.8,1099.1 L981.8,1078.4 L990.3,1084.0 L998.3,1077.8 Z" fill="#ff6666"/>
<path d="M1108.5,1045.8 A204.34929906390835,204.34929906390835 0 0 0 1270.9,864.1" fill="none" stroke="#231815" stroke-width="4.6"/>
<path d="M1271.7,849.4 L1278.2,870.9 L1270.7,864.5 L1262.3,869.8 Z" fill="#000"/>
<path d="M1270.8,807.2 A207.01787247442667,207.01787247442667 0 0 0 1112.3,643.5" fill="none" stroke="#231815" stroke-width="4.6"/>
<path d="M1097.8,640.8 L1120.0,637.1 L1112.7,643.8 L1116.8,652.8 Z" fill="#000"/>
<path d="M1219,705 C1211,690 1208,672 1213.5,652" fill="none" stroke="#000" stroke-width="4.6"/>
<path d="M1215.4,636.0 L1220.4,657.9 L1213.3,651.0 L1204.6,655.7 Z" fill="#000"/>
<line x1="1043.5" y1="731" x2="1043.5" y2="683" stroke="#ff6666" stroke-width="2.8"/>
<path d="M1043.5,673.0 L1050.2,690.0 L1043.5,685.8 L1036.8,690.0 Z" fill="#ff6666"/>
<line x1="1070.2" y1="720.6" x2="1070.2" y2="672.4" stroke="#ff6666" stroke-width="2.8"/>
<path d="M1070.2,662.4 L1077.0,679.4 L1070.2,675.1 L1063.5,679.4 Z" fill="#ff6666"/>
<line x1="1096" y1="731" x2="1096" y2="683" stroke="#ff6666" stroke-width="2.8"/>
<path d="M1096.0,673.0 L1102.8,690.0 L1096.0,685.8 L1089.2,690.0 Z" fill="#ff6666"/>
<line x1="1044.4" y1="958" x2="1044.4" y2="1004.6" stroke="#000" stroke-width="3.3"/>
<path d="M1044.4,1014.6 L1037.4,996.6 L1044.4,1001.1 L1051.4,996.6 Z" fill="#000"/>
<line x1="1069.8" y1="966" x2="1069.8" y2="1013.5" stroke="#000" stroke-width="3.3"/>
<path d="M1069.8,1023.5 L1062.8,1005.5 L1069.8,1010.0 L1076.8,1005.5 Z" fill="#000"/>
<line x1="1098.8" y1="958" x2="1098.8" y2="1004.6" stroke="#000" stroke-width="3.3"/>
<path d="M1098.8,1014.6 L1091.8,996.6 L1098.8,1001.1 L1105.8,996.6 Z" fill="#000"/>
<polyline points="1069.6,834.0 1069.4,833.0 1068.7,832.0 1067.8,831.0 1066.6,830.0 1065.3,829.0 1064.2,828.0 1063.4,827.0 1063.1,826.0 1063.4,825.0 1064.3,824.0 1066.3,823.0 1068.5,822.0 1070.7,821.0 1072.9,820.0 1074.9,819.0 1076.5,818.0 1077.7,817.0 1078.4,816.0 1078.6,815.0 1078.2,814.0 1077.2,813.0 1075.8,812.0 1073.9,811.0 1071.8,810.0 1069.6,809.0 1067.4,808.0 1065.3,807.0 1063.4,806.0 1062.0,805.0 1061.0,804.0 1060.6,803.0 1060.8,802.0 1061.5,801.0 1062.7,800.0 1064.3,799.0 1066.3,798.0 1068.5,797.0 1070.7,796.0 1072.9,795.0 1074.9,794.0 1076.5,793.0 1077.7,792.0 1078.4,791.0 1078.6,790.0 1078.2,789.0 1077.2,788.0 1075.8,787.0 1073.9,786.0 1071.8,785.0 1069.6,784.0 1067.4,783.0 1065.3,782.0 1063.4,781.0 1062.8,780.0 1062.8,779.0 1063.3,778.0 1064.3,777.0 1065.5,776.0 1066.8,775.0 1068.0,774.0" fill="none" stroke="#000" stroke-width="3.2" stroke-linecap="round" stroke-linejoin="round"/>
<path d="M1070.3,757.2 L1078.5,777.7 L1070.3,772.6 L1062.0,777.7 Z" fill="#000"/>
<polyline points="1068.5,860.0 1068.7,861.0 1069.4,862.0 1070.3,863.0 1071.5,864.1 1072.8,865.1 1073.9,866.1 1074.7,867.1 1075.0,868.1 1074.7,869.1 1073.8,870.2 1071.8,871.2 1069.6,872.2 1067.4,873.2 1065.2,874.2 1063.2,875.2 1061.6,876.3 1060.4,877.3 1059.7,878.3 1059.5,879.3 1059.9,880.3 1060.9,881.4 1062.3,882.4 1064.2,883.4 1066.3,884.4 1068.5,885.4 1070.7,886.4 1072.8,887.5 1074.7,888.5 1076.1,889.5 1077.1,890.5 1077.5,891.5 1077.3,892.5 1076.6,893.5 1075.4,894.6 1073.8,895.6 1071.8,896.6 1069.6,897.6 1067.4,898.6 1065.2,899.6 1063.2,900.7 1061.6,901.7 1060.4,902.7 1059.7,903.7 1059.5,904.7 1059.9,905.8 1060.9,906.8 1062.3,907.8 1064.2,908.8 1066.3,909.8 1068.5,910.8 1070.7,911.9 1072.8,912.9 1074.7,913.9 1075.3,914.9 1075.3,915.9 1074.8,916.9 1073.8,918.0 1072.6,919.0 1071.3,920.0 1070.1,921.0" fill="none" stroke="#000" stroke-width="3.2" stroke-linecap="round" stroke-linejoin="round"/>
<path d="M1067.6,937.5 L1059.3,917.0 L1067.6,922.1 L1075.8,917.0 Z" fill="#000"/>
<g filter="url(#glow)"><path d="M875.8,807.8 C889,813 902,826 913,835.2 C920,841 927,846 936,852" fill="none" stroke="#ffff9a" stroke-width="17" stroke-linecap="butt"/><path d="M953.4,865.8 L940.4,843.6 L933.5,851 L928,859.3 Z" fill="#ffff9a" stroke="#ffff9a" stroke-width="8" stroke-linejoin="round"/></g>
<path d="M875.8,807.8 C889,813 902,826 913,835.2 C920,841 927,846 936,852" fill="none" stroke="url(#lightg)" stroke-width="10"/>
<path d="M953.4,865.8 L940.4,843.6 L933.5,851 L928,859.3 Z" fill="#7030a0"/>
<text transform="translate(889,800) rotate(33)" font-size="30" text-anchor="start">Light</text>
<text x="954.6" y="854.6" font-size="25.5" fill="#000" text-anchor="start" >Interband transitions</text>
<text x="1043.7" y="648.9" font-size="30" fill="#ff6666" text-anchor="start" >H<tspan font-size="19" dy="10">2</tspan><tspan dy="-10" font-size="1">&#8203;</tspan>O</text>
<text x="989.3" y="644.4" font-size="30" fill="#ff6666" text-anchor="start" >h<tspan font-size="17" dy="-9.2">+</tspan><tspan dy="9.2" font-size="1">&#8203;</tspan></text>
<text x="908.8" y="695.2" font-size="30" fill="#ff6666" text-anchor="start" >*OH</text>
<text x="860.5" y="725.2" font-size="30" fill="#ff6666" text-anchor="start" >–H<tspan font-size="17" dy="-9.2">+</tspan><tspan dy="9.2" font-size="1">&#8203;</tspan></text>
<text x="859.7" y="785.1" font-size="30" fill="#ff6666" text-anchor="start" >O<tspan font-size="17" dy="-9.2">−</tspan><tspan dy="9.2" font-size="1">&#8203;</tspan></text>
<text x="833.5" y="832.9" font-size="30" fill="#ff6666" text-anchor="start" >h<tspan font-size="17" dy="-9.2">+</tspan><tspan dy="9.2" font-size="1">&#8203;</tspan></text>
<text x="853.3" y="901.6" font-size="30" fill="#ff6666" text-anchor="start" >O*</text>
<text x="848.6" y="947.1" font-size="30" fill="#ff6666" text-anchor="start" >h<tspan font-size="17" dy="-9.2">+</tspan><tspan dy="9.2" font-size="1">&#8203;</tspan></text>
<text x="893.7" y="947.1" font-size="30" fill="#ff6666" text-anchor="start" >H<tspan font-size="19" dy="10">2</tspan><tspan dy="-10" font-size="1">&#8203;</tspan>O</text>
<text x="893.4" y="1006.2" font-size="30" fill="#ff6666" text-anchor="start" >*OOH</text>
<text x="989.6" y="1030.7" font-size="30" fill="#ff6666" text-anchor="start" >H<tspan font-size="17" dy="-9.2">+</tspan><tspan dy="9.2" font-size="1">&#8203;</tspan></text>
<text x="954.4" y="1071.2" font-size="30" fill="#ff6666" text-anchor="start" >h<tspan font-size="17" dy="-9.2">+</tspan><tspan dy="9.2" font-size="1">&#8203;</tspan></text>
<text x="953.1" y="1122.6" font-size="30" fill="#ff6666" text-anchor="start" >O<tspan font-size="19" dy="10">2</tspan><tspan dy="-10" font-size="1">&#8203;</tspan>(g)</text>
<text x="1049.4" y="1057.7" font-size="30" fill="#000" text-anchor="start" >CO<tspan font-size="19" dy="10">2</tspan><tspan dy="-10" font-size="1">&#8203;</tspan></text>
<text x="1189.5" y="639.1" font-size="30" fill="#000" text-anchor="start" >CO(g)</text>
<text x="1216.9" y="840.7" font-size="30" fill="#000" text-anchor="start" >*COOH</text>
<text x="1208.2" y="758.7" font-size="30" fill="#000" text-anchor="start" >H<tspan font-size="17" dy="-9.2">+</tspan><tspan dy="9.2" font-size="1">&#8203;</tspan></text>
<text x="1263" y="755.5" font-size="30" fill="#000" text-anchor="start" >e<tspan font-size="17" dy="-9.2">−</tspan><tspan dy="9.2" font-size="1">&#8203;</tspan></text>
<text x="1193.3" y="971.6" font-size="30" fill="#000" text-anchor="start" >H<tspan font-size="17" dy="-9.2">+</tspan><tspan dy="9.2" font-size="1">&#8203;</tspan></text>
<text x="1224.2" y="1002" font-size="30" fill="#000" text-anchor="start" >e<tspan font-size="17" dy="-9.2">−</tspan><tspan dy="9.2" font-size="1">&#8203;</tspan></text>
<text x="1029.5" y="765" font-size="30" fill="#000" text-anchor="start" >h<tspan font-size="17" dy="-9.2">+</tspan><tspan dy="9.2" font-size="1">&#8203;</tspan></text>
<text x="1063.3" y="752.3" font-size="30" fill="#000" text-anchor="start" >h<tspan font-size="17" dy="-9.2">+</tspan><tspan dy="9.2" font-size="1">&#8203;</tspan></text>
<text x="1097.1" y="765" font-size="30" fill="#000" text-anchor="start" >h<tspan font-size="17" dy="-9.2">+</tspan><tspan dy="9.2" font-size="1">&#8203;</tspan></text>
<text x="1030" y="948.2" font-size="30" fill="#000" text-anchor="start" >e<tspan font-size="17" dy="-9.2">−</tspan><tspan dy="9.2" font-size="1">&#8203;</tspan></text>
<text x="1059.7" y="955.6" font-size="30" fill="#000" text-anchor="start" >e<tspan font-size="17" dy="-9.2">−</tspan><tspan dy="9.2" font-size="1">&#8203;</tspan></text>
<text x="1094.3" y="947.1" font-size="30" fill="#000" text-anchor="start" >e<tspan font-size="17" dy="-9.2">−</tspan><tspan dy="9.2" font-size="1">&#8203;</tspan></text>
</svg>
</body></html>
